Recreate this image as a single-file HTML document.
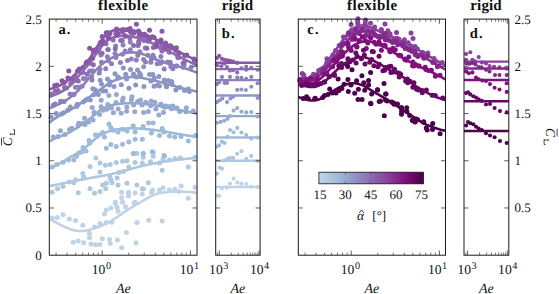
<!DOCTYPE html>
<html><head><meta charset="utf-8"><title>chart</title><style>html,body{margin:0;padding:0;background:#fff}svg{display:block}text{font-family:"Liberation Serif",serif;text-rendering:geometricPrecision}</style></head><body>
<svg width="559" height="294" viewBox="0 0 559 294">
<rect width="559" height="294" fill="#fff"/>
<defs>
<clipPath id="ca"><rect x="46.3" y="15.1" width="153.7" height="244.1"/></clipPath>
<clipPath id="cb"><rect x="212.7" y="15.1" width="50.4" height="244.1"/></clipPath>
<clipPath id="cc"><rect x="295.3" y="15.1" width="153.2" height="244.1"/></clipPath>
<clipPath id="cd"><rect x="461.0" y="15.1" width="50.8" height="244.1"/></clipPath>
<linearGradient id="cbar" x1="0" x2="1" y1="0" y2="0">
<stop offset="0.0000" stop-color="#c2d5e7"/>
<stop offset="0.0625" stop-color="#b5cce2"/>
<stop offset="0.1250" stop-color="#a8c3de"/>
<stop offset="0.1875" stop-color="#9db9d8"/>
<stop offset="0.2500" stop-color="#96abd1"/>
<stop offset="0.3125" stop-color="#8f9cc9"/>
<stop offset="0.3750" stop-color="#8c8cc1"/>
<stop offset="0.4375" stop-color="#8c7cb9"/>
<stop offset="0.5000" stop-color="#8c6bb1"/>
<stop offset="0.5625" stop-color="#8a5ba9"/>
<stop offset="0.6250" stop-color="#894ba2"/>
<stop offset="0.6875" stop-color="#873998"/>
<stop offset="0.7500" stop-color="#84268b"/>
<stop offset="0.8125" stop-color="#82137e"/>
<stop offset="0.8750" stop-color="#710a6d"/>
<stop offset="0.9375" stop-color="#5d055a"/>
<stop offset="1.0000" stop-color="#4d004b"/>
</linearGradient></defs>
<g fill="#bfd3e6" clip-path="url(#ca)"><circle cx="52.2" cy="218.0" r="2.50"/><circle cx="57.3" cy="217.5" r="2.50"/><circle cx="63.0" cy="214.4" r="2.50"/><circle cx="69.3" cy="218.9" r="2.50"/><circle cx="75.6" cy="220.4" r="2.50"/><circle cx="82.8" cy="225.2" r="2.50"/><circle cx="94.5" cy="227.0" r="2.50"/><circle cx="100.0" cy="223.4" r="2.50"/><circle cx="106.3" cy="222.5" r="2.50"/><circle cx="111.7" cy="222.2" r="2.50"/><circle cx="104.5" cy="214.0" r="2.50"/><circle cx="106.3" cy="210.0" r="2.50"/><circle cx="110.8" cy="208.1" r="2.50"/><circle cx="115.3" cy="203.6" r="2.50"/><circle cx="117.0" cy="207.2" r="2.50"/><circle cx="118.0" cy="211.2" r="2.50"/><circle cx="122.5" cy="202.2" r="2.50"/><circle cx="125.5" cy="206.8" r="2.50"/><circle cx="134.2" cy="202.7" r="2.50"/><circle cx="137.0" cy="222.5" r="2.50"/><circle cx="73.3" cy="242.3" r="2.50"/><circle cx="78.3" cy="241.1" r="2.50"/><circle cx="83.7" cy="242.7" r="2.50"/><circle cx="89.5" cy="233.3" r="2.50"/><circle cx="89.5" cy="237.8" r="2.50"/><circle cx="91.0" cy="244.1" r="2.50"/><circle cx="95.5" cy="244.7" r="2.50"/><circle cx="100.0" cy="244.5" r="2.50"/><circle cx="102.3" cy="238.7" r="2.50"/><circle cx="109.5" cy="239.3" r="2.50"/><circle cx="110.2" cy="243.6" r="2.50"/><circle cx="117.4" cy="240.0" r="2.50"/><circle cx="121.6" cy="247.7" r="2.50"/><circle cx="126.4" cy="232.4" r="2.50"/><circle cx="136.0" cy="242.9" r="2.50"/><circle cx="121.6" cy="192.3" r="2.50"/><circle cx="128.5" cy="192.3" r="2.50"/><circle cx="135.1" cy="192.9" r="2.50"/><circle cx="121.6" cy="197.7" r="2.50"/><circle cx="128.5" cy="196.0" r="2.50"/><circle cx="142.3" cy="194.1" r="2.50"/><circle cx="143.6" cy="188.7" r="2.50"/><circle cx="151.4" cy="192.3" r="2.50"/><circle cx="152.6" cy="190.0" r="2.50"/><circle cx="159.5" cy="190.0" r="2.50"/><circle cx="163.0" cy="187.8" r="2.50"/><circle cx="169.4" cy="190.0" r="2.50"/><circle cx="174.8" cy="189.3" r="2.50"/><circle cx="178.7" cy="191.4" r="2.50"/><circle cx="181.1" cy="186.0" r="2.50"/><circle cx="188.3" cy="198.3" r="2.50"/><circle cx="195.0" cy="187.3" r="2.50"/><circle cx="115.3" cy="202.3" r="2.50"/><circle cx="135.1" cy="202.3" r="2.50"/><circle cx="148.7" cy="220.2" r="2.50"/><circle cx="162.1" cy="221.0" r="2.50"/></g>
<path d="M49.3,218.9 L50.5,219.5 L51.8,220.2 L53.0,220.9 L54.3,221.5 L55.5,222.2 L56.7,222.9 L58.0,223.5 L59.2,224.2 L60.5,224.8 L61.7,225.5 L63.0,226.1 L64.2,226.7 L65.4,227.2 L66.7,227.8 L67.9,228.3 L69.2,228.8 L70.4,229.2 L71.6,229.6 L72.9,229.9 L74.1,230.2 L75.4,230.5 L76.6,230.7 L77.8,230.9 L79.1,231.0 L80.3,231.0 L81.6,231.0 L82.8,230.9 L84.1,230.8 L85.3,230.7 L86.5,230.5 L87.8,230.2 L89.0,229.9 L90.3,229.6 L91.5,229.3 L92.7,228.9 L94.0,228.5 L95.2,228.1 L96.5,227.7 L97.7,227.2 L98.9,226.7 L100.2,226.2 L101.4,225.7 L102.7,225.1 L103.9,224.5 L105.2,224.0 L106.4,223.3 L107.6,222.7 L108.9,222.0 L110.1,221.3 L111.4,220.6 L112.6,219.9 L113.8,219.1 L115.1,218.4 L116.3,217.6 L117.6,216.7 L118.8,215.9 L120.0,215.0 L121.3,214.1 L122.5,213.2 L123.8,212.3 L125.0,211.5 L126.3,210.6 L127.5,209.8 L128.7,209.1 L130.0,208.3 L131.2,207.6 L132.5,206.9 L133.7,206.2 L134.9,205.4 L136.2,204.7 L137.4,204.0 L138.7,203.3 L139.9,202.5 L141.1,201.8 L142.4,201.0 L143.6,200.3 L144.9,199.6 L146.1,198.8 L147.4,198.1 L148.6,197.4 L149.8,196.8 L151.1,196.1 L152.3,195.5 L153.6,195.0 L154.8,194.5 L156.0,194.1 L157.3,193.7 L158.5,193.4 L159.8,193.1 L161.0,192.9 L162.2,192.7 L163.5,192.5 L164.7,192.3 L166.0,192.2 L167.2,192.1 L168.5,191.9 L169.7,191.8 L170.9,191.8 L172.2,191.7 L173.4,191.6 L174.7,191.6 L175.9,191.5 L177.1,191.5 L178.4,191.5 L179.6,191.5 L180.9,191.5 L182.1,191.6 L183.3,191.6 L184.6,191.7 L185.8,191.7 L187.1,191.8 L188.3,191.9 L189.6,192.0 L190.8,192.1 L192.0,192.3 L193.3,192.4 L194.5,192.6 L195.8,192.8 L197.0,193.0" fill="none" stroke="#bfd3e6" stroke-width="2.6" stroke-linecap="butt" clip-path="url(#ca)"/>
<g fill="#aec8e0" clip-path="url(#ca)"><circle cx="52.2" cy="192.3" r="2.50"/><circle cx="57.6" cy="188.7" r="2.50"/><circle cx="63.0" cy="186.6" r="2.50"/><circle cx="69.3" cy="182.1" r="2.50"/><circle cx="73.8" cy="182.8" r="2.50"/><circle cx="75.6" cy="179.7" r="2.50"/><circle cx="78.3" cy="192.7" r="2.50"/><circle cx="82.8" cy="173.4" r="2.50"/><circle cx="83.7" cy="177.0" r="2.50"/><circle cx="90.0" cy="166.6" r="2.50"/><circle cx="90.0" cy="188.7" r="2.50"/><circle cx="94.5" cy="193.2" r="2.50"/><circle cx="95.8" cy="158.1" r="2.50"/><circle cx="100.0" cy="163.0" r="2.50"/><circle cx="100.0" cy="172.0" r="2.50"/><circle cx="100.0" cy="191.4" r="2.50"/><circle cx="102.7" cy="185.1" r="2.50"/><circle cx="105.4" cy="165.3" r="2.50"/><circle cx="106.3" cy="183.3" r="2.50"/><circle cx="105.7" cy="188.7" r="2.50"/><circle cx="110.2" cy="164.4" r="2.50"/><circle cx="109.9" cy="177.0" r="2.50"/><circle cx="110.8" cy="179.7" r="2.50"/><circle cx="112.0" cy="182.8" r="2.50"/><circle cx="116.2" cy="162.6" r="2.50"/><circle cx="117.1" cy="177.9" r="2.50"/><circle cx="118.0" cy="185.1" r="2.50"/><circle cx="118.9" cy="172.5" r="2.50"/><circle cx="122.5" cy="161.2" r="2.50"/><circle cx="123.4" cy="171.6" r="2.50"/><circle cx="127.0" cy="160.8" r="2.50"/><circle cx="127.0" cy="183.3" r="2.50"/><circle cx="128.8" cy="167.1" r="2.50"/><circle cx="135.1" cy="162.6" r="2.50"/><circle cx="134.2" cy="153.6" r="2.50"/><circle cx="136.9" cy="153.6" r="2.50"/><circle cx="136.9" cy="185.1" r="2.50"/><circle cx="143.2" cy="157.2" r="2.50"/><circle cx="142.3" cy="188.7" r="2.50"/><circle cx="142.3" cy="163.0" r="2.50"/><circle cx="150.5" cy="161.7" r="2.50"/><circle cx="153.2" cy="152.2" r="2.50"/><circle cx="153.2" cy="156.3" r="2.50"/><circle cx="159.5" cy="163.0" r="2.50"/><circle cx="162.2" cy="170.2" r="2.50"/><circle cx="163.0" cy="159.0" r="2.50"/><circle cx="164.5" cy="156.3" r="2.50"/><circle cx="169.4" cy="159.9" r="2.50"/><circle cx="174.8" cy="158.6" r="2.50"/><circle cx="180.2" cy="158.1" r="2.50"/><circle cx="188.3" cy="167.1" r="2.50"/><circle cx="195.0" cy="157.2" r="2.50"/><circle cx="148.3" cy="182.8" r="2.50"/><circle cx="143.2" cy="153.6" r="2.50"/></g>
<path d="M49.3,186.0 L50.5,185.8 L51.8,185.6 L53.0,185.4 L54.3,185.1 L55.5,184.9 L56.7,184.7 L58.0,184.4 L59.2,184.2 L60.5,183.9 L61.7,183.7 L63.0,183.4 L64.2,183.2 L65.4,182.9 L66.7,182.6 L67.9,182.4 L69.2,182.1 L70.4,181.9 L71.6,181.6 L72.9,181.3 L74.1,181.1 L75.4,180.8 L76.6,180.6 L77.8,180.3 L79.1,180.1 L80.3,179.8 L81.6,179.6 L82.8,179.4 L84.1,179.1 L85.3,178.9 L86.5,178.7 L87.8,178.5 L89.0,178.2 L90.3,178.0 L91.5,177.8 L92.7,177.6 L94.0,177.4 L95.2,177.1 L96.5,176.9 L97.7,176.7 L98.9,176.5 L100.2,176.3 L101.4,176.0 L102.7,175.8 L103.9,175.6 L105.2,175.3 L106.4,175.1 L107.6,174.8 L108.9,174.6 L110.1,174.3 L111.4,174.1 L112.6,173.8 L113.8,173.5 L115.1,173.2 L116.3,172.9 L117.6,172.6 L118.8,172.3 L120.0,172.0 L121.3,171.6 L122.5,171.3 L123.8,170.9 L125.0,170.6 L126.3,170.2 L127.5,169.9 L128.7,169.5 L130.0,169.2 L131.2,168.8 L132.5,168.5 L133.7,168.1 L134.9,167.8 L136.2,167.5 L137.4,167.1 L138.7,166.8 L139.9,166.5 L141.1,166.2 L142.4,165.9 L143.6,165.6 L144.9,165.4 L146.1,165.1 L147.4,164.8 L148.6,164.6 L149.8,164.3 L151.1,164.1 L152.3,163.8 L153.6,163.6 L154.8,163.3 L156.0,163.1 L157.3,162.9 L158.5,162.7 L159.8,162.4 L161.0,162.2 L162.2,162.0 L163.5,161.8 L164.7,161.6 L166.0,161.4 L167.2,161.2 L168.5,161.0 L169.7,160.8 L170.9,160.7 L172.2,160.5 L173.4,160.3 L174.7,160.1 L175.9,160.0 L177.1,159.8 L178.4,159.7 L179.6,159.5 L180.9,159.4 L182.1,159.2 L183.3,159.1 L184.6,159.0 L185.8,158.9 L187.1,158.7 L188.3,158.6 L189.6,158.5 L190.8,158.4 L192.0,158.3 L193.3,158.2 L194.5,158.2 L195.8,158.1 L197.0,158.0" fill="none" stroke="#aec8e0" stroke-width="2.6" stroke-linecap="butt" clip-path="url(#ca)"/>
<g fill="#9ebcda" clip-path="url(#ca)"><circle cx="52.2" cy="167.1" r="2.50"/><circle cx="56.7" cy="164.4" r="2.50"/><circle cx="63.0" cy="162.3" r="2.50"/><circle cx="68.4" cy="159.9" r="2.50"/><circle cx="73.8" cy="159.9" r="2.50"/><circle cx="76.5" cy="156.3" r="2.50"/><circle cx="79.2" cy="152.7" r="2.50"/><circle cx="81.9" cy="151.8" r="2.50"/><circle cx="102.7" cy="132.9" r="2.50"/><circle cx="109.0" cy="123.9" r="2.50"/><circle cx="110.8" cy="127.5" r="2.50"/><circle cx="113.5" cy="130.2" r="2.50"/><circle cx="118.0" cy="132.0" r="2.50"/><circle cx="122.5" cy="129.3" r="2.50"/><circle cx="127.0" cy="131.1" r="2.50"/><circle cx="133.3" cy="125.7" r="2.50"/><circle cx="135.1" cy="132.0" r="2.50"/><circle cx="143.2" cy="126.6" r="2.50"/><circle cx="148.6" cy="123.0" r="2.50"/><circle cx="153.2" cy="123.0" r="2.50"/><circle cx="151.4" cy="132.9" r="2.50"/><circle cx="159.5" cy="135.6" r="2.50"/><circle cx="162.2" cy="128.4" r="2.50"/><circle cx="164.0" cy="132.0" r="2.50"/><circle cx="169.4" cy="136.0" r="2.50"/><circle cx="174.8" cy="137.1" r="2.50"/><circle cx="181.1" cy="136.5" r="2.50"/><circle cx="188.3" cy="141.0" r="2.50"/><circle cx="195.5" cy="135.6" r="2.50"/><circle cx="106.3" cy="148.2" r="2.50"/><circle cx="110.8" cy="144.6" r="2.50"/><circle cx="116.2" cy="146.4" r="2.50"/><circle cx="122.5" cy="144.3" r="2.50"/><circle cx="128.8" cy="141.9" r="2.50"/><circle cx="135.1" cy="139.2" r="2.50"/><circle cx="142.3" cy="139.2" r="2.50"/><circle cx="133.3" cy="153.6" r="2.50"/><circle cx="143.2" cy="153.6" r="2.50"/><circle cx="152.3" cy="151.8" r="2.50"/><circle cx="164.0" cy="155.4" r="2.50"/><circle cx="83.0" cy="147.5" r="2.50"/><circle cx="86.0" cy="151.0" r="2.50"/><circle cx="89.0" cy="140.5" r="2.50"/><circle cx="89.7" cy="143.2" r="2.50"/><circle cx="95.5" cy="135.1" r="2.50"/><circle cx="98.2" cy="135.1" r="2.50"/><circle cx="102.7" cy="132.4" r="2.50"/><circle cx="104.5" cy="137.0" r="2.50"/></g>
<path d="M49.3,168.0 L50.5,167.7 L51.8,167.2 L53.0,166.8 L54.3,166.3 L55.5,165.7 L56.7,165.1 L58.0,164.5 L59.2,163.9 L60.5,163.2 L61.7,162.5 L63.0,161.7 L64.2,161.0 L65.4,160.2 L66.7,159.5 L67.9,158.7 L69.2,158.0 L70.4,157.2 L71.6,156.5 L72.9,155.8 L74.1,155.1 L75.4,154.4 L76.6,153.7 L77.8,152.9 L79.1,152.2 L80.3,151.4 L81.6,150.5 L82.8,149.6 L84.1,148.6 L85.3,147.6 L86.5,146.5 L87.8,145.5 L89.0,144.4 L90.3,143.3 L91.5,142.2 L92.7,141.1 L94.0,140.0 L95.2,139.0 L96.5,138.0 L97.7,137.1 L98.9,136.2 L100.2,135.4 L101.4,134.6 L102.7,133.9 L103.9,133.3 L105.2,132.7 L106.4,132.2 L107.6,131.8 L108.9,131.3 L110.1,131.0 L111.4,130.6 L112.6,130.3 L113.8,130.0 L115.1,129.8 L116.3,129.5 L117.6,129.3 L118.8,129.2 L120.0,129.0 L121.3,128.9 L122.5,128.8 L123.8,128.6 L125.0,128.6 L126.3,128.5 L127.5,128.4 L128.7,128.4 L130.0,128.4 L131.2,128.3 L132.5,128.3 L133.7,128.3 L134.9,128.4 L136.2,128.4 L137.4,128.5 L138.7,128.5 L139.9,128.6 L141.1,128.7 L142.4,128.8 L143.6,128.9 L144.9,129.0 L146.1,129.1 L147.4,129.2 L148.6,129.3 L149.8,129.5 L151.1,129.6 L152.3,129.8 L153.6,129.9 L154.8,130.1 L156.0,130.3 L157.3,130.5 L158.5,130.6 L159.8,130.8 L161.0,131.0 L162.2,131.2 L163.5,131.4 L164.7,131.6 L166.0,131.8 L167.2,132.0 L168.5,132.2 L169.7,132.4 L170.9,132.7 L172.2,132.9 L173.4,133.1 L174.7,133.3 L175.9,133.5 L177.1,133.7 L178.4,134.0 L179.6,134.2 L180.9,134.4 L182.1,134.6 L183.3,134.8 L184.6,135.0 L185.8,135.2 L187.1,135.4 L188.3,135.6 L189.6,135.8 L190.8,136.0 L192.0,136.2 L193.3,136.4 L194.5,136.6 L195.8,136.8 L197.0,137.0" fill="none" stroke="#9ebcda" stroke-width="2.6" stroke-linecap="butt" clip-path="url(#ca)"/>
<g fill="#95a9d0" clip-path="url(#ca)"><circle cx="53.3" cy="137.0" r="2.50"/><circle cx="60.5" cy="130.8" r="2.50"/><circle cx="69.5" cy="129.4" r="2.50"/><circle cx="78.7" cy="123.3" r="2.50"/><circle cx="84.5" cy="118.2" r="2.50"/><circle cx="92.2" cy="107.6" r="2.50"/><circle cx="101.2" cy="100.3" r="2.50"/><circle cx="108.9" cy="95.5" r="2.50"/><circle cx="116.4" cy="94.6" r="2.50"/><circle cx="123.2" cy="98.1" r="2.50"/><circle cx="131.9" cy="96.7" r="2.50"/><circle cx="140.5" cy="100.0" r="2.50"/><circle cx="146.2" cy="102.7" r="2.50"/><circle cx="154.9" cy="102.3" r="2.50"/><circle cx="161.2" cy="104.3" r="2.50"/><circle cx="169.7" cy="106.5" r="2.50"/><circle cx="176.9" cy="107.9" r="2.50"/><circle cx="186.4" cy="107.7" r="2.50"/><circle cx="193.2" cy="111.1" r="2.50"/><circle cx="58.1" cy="136.5" r="2.50"/><circle cx="65.0" cy="134.4" r="2.50"/><circle cx="71.8" cy="128.3" r="2.50"/><circle cx="82.3" cy="123.5" r="2.50"/><circle cx="88.6" cy="122.1" r="2.50"/><circle cx="94.2" cy="113.8" r="2.50"/><circle cx="103.2" cy="110.3" r="2.50"/><circle cx="111.4" cy="108.1" r="2.50"/><circle cx="118.2" cy="109.0" r="2.50"/><circle cx="126.8" cy="107.1" r="2.50"/><circle cx="133.6" cy="105.0" r="2.50"/><circle cx="142.1" cy="105.0" r="2.50"/><circle cx="150.5" cy="105.7" r="2.50"/><circle cx="155.9" cy="109.1" r="2.50"/><circle cx="164.5" cy="107.3" r="2.50"/><circle cx="171.5" cy="108.7" r="2.50"/><circle cx="179.8" cy="111.4" r="2.50"/><circle cx="186.0" cy="111.8" r="2.50"/><circle cx="78.0" cy="126.0" r="2.50"/><circle cx="85.0" cy="124.5" r="2.50"/><circle cx="94.2" cy="112.2" r="2.50"/><circle cx="101.1" cy="106.8" r="2.50"/><circle cx="107.8" cy="104.5" r="2.50"/><circle cx="116.0" cy="102.5" r="2.50"/><circle cx="122.4" cy="100.4" r="2.50"/><circle cx="131.4" cy="99.8" r="2.50"/><circle cx="137.7" cy="101.6" r="2.50"/><circle cx="145.8" cy="102.4" r="2.50"/><circle cx="151.3" cy="100.9" r="2.50"/><circle cx="160.5" cy="104.5" r="2.50"/><circle cx="165.8" cy="106.0" r="2.50"/><circle cx="172.9" cy="106.0" r="2.50"/><circle cx="93.1" cy="120.0" r="2.50"/><circle cx="99.6" cy="114.6" r="2.50"/><circle cx="106.8" cy="109.2" r="2.50"/><circle cx="113.4" cy="112.8" r="2.50"/><circle cx="121.2" cy="113.3" r="2.50"/><circle cx="126.6" cy="111.2" r="2.50"/><circle cx="134.8" cy="111.7" r="2.50"/><circle cx="143.7" cy="112.5" r="2.50"/><circle cx="148.4" cy="111.5" r="2.50"/><circle cx="158.8" cy="115.1" r="2.50"/><circle cx="163.4" cy="112.6" r="2.50"/></g>
<path d="M49.3,141.5 L50.5,140.8 L51.8,140.1 L53.0,139.4 L54.3,138.8 L55.5,138.3 L56.7,137.7 L58.0,137.2 L59.2,136.7 L60.5,136.2 L61.7,135.7 L63.0,135.2 L64.2,134.7 L65.4,134.2 L66.7,133.7 L67.9,133.1 L69.2,132.5 L70.4,131.9 L71.6,131.2 L72.9,130.5 L74.1,129.7 L75.4,128.9 L76.6,128.1 L77.8,127.2 L79.1,126.3 L80.3,125.5 L81.6,124.6 L82.8,123.7 L84.1,122.9 L85.3,122.0 L86.5,121.1 L87.8,120.2 L89.0,119.3 L90.3,118.3 L91.5,117.3 L92.7,116.2 L94.0,115.1 L95.2,114.0 L96.5,113.0 L97.7,112.0 L98.9,111.0 L100.2,110.2 L101.4,109.4 L102.7,108.7 L103.9,108.0 L105.2,107.4 L106.4,106.9 L107.6,106.4 L108.9,106.0 L110.1,105.6 L111.4,105.3 L112.6,105.0 L113.8,104.7 L115.1,104.5 L116.3,104.3 L117.6,104.1 L118.8,103.9 L120.0,103.8 L121.3,103.6 L122.5,103.5 L123.8,103.4 L125.0,103.3 L126.3,103.3 L127.5,103.2 L128.7,103.2 L130.0,103.2 L131.2,103.2 L132.5,103.2 L133.7,103.2 L134.9,103.2 L136.2,103.3 L137.4,103.4 L138.7,103.4 L139.9,103.5 L141.1,103.6 L142.4,103.7 L143.6,103.8 L144.9,104.0 L146.1,104.1 L147.4,104.3 L148.6,104.4 L149.8,104.6 L151.1,104.8 L152.3,104.9 L153.6,105.1 L154.8,105.3 L156.0,105.5 L157.3,105.8 L158.5,106.0 L159.8,106.2 L161.0,106.4 L162.2,106.7 L163.5,106.9 L164.7,107.1 L166.0,107.4 L167.2,107.6 L168.5,107.9 L169.7,108.1 L170.9,108.4 L172.2,108.6 L173.4,108.9 L174.7,109.1 L175.9,109.4 L177.1,109.6 L178.4,109.9 L179.6,110.1 L180.9,110.4 L182.1,110.6 L183.3,110.9 L184.6,111.1 L185.8,111.4 L187.1,111.6 L188.3,111.8 L189.6,112.1 L190.8,112.3 L192.0,112.6 L193.3,112.8 L194.5,113.0 L195.8,113.2 L197.0,113.4" fill="none" stroke="#95a9d0" stroke-width="2.6" stroke-linecap="butt" clip-path="url(#ca)"/>
<g fill="#8c96c6" clip-path="url(#ca)"><circle cx="51.1" cy="117.0" r="2.50"/><circle cx="61.5" cy="113.9" r="2.50"/><circle cx="67.7" cy="110.2" r="2.50"/><circle cx="76.6" cy="106.4" r="2.50"/><circle cx="83.2" cy="101.9" r="2.50"/><circle cx="90.2" cy="100.1" r="2.50"/><circle cx="98.3" cy="94.4" r="2.50"/><circle cx="105.7" cy="91.1" r="2.50"/><circle cx="114.0" cy="86.4" r="2.50"/><circle cx="121.3" cy="84.7" r="2.50"/><circle cx="129.0" cy="88.2" r="2.50"/><circle cx="135.6" cy="85.1" r="2.50"/><circle cx="143.9" cy="86.5" r="2.50"/><circle cx="154.1" cy="86.3" r="2.50"/><circle cx="159.4" cy="86.0" r="2.50"/><circle cx="166.6" cy="86.7" r="2.50"/><circle cx="175.8" cy="90.1" r="2.50"/><circle cx="184.6" cy="90.4" r="2.50"/><circle cx="189.3" cy="91.6" r="2.50"/><circle cx="56.2" cy="113.5" r="2.50"/><circle cx="63.6" cy="112.8" r="2.50"/><circle cx="70.3" cy="107.0" r="2.50"/><circle cx="77.1" cy="104.5" r="2.50"/><circle cx="87.3" cy="99.0" r="2.50"/><circle cx="95.0" cy="89.7" r="2.50"/><circle cx="101.5" cy="84.1" r="2.50"/><circle cx="110.0" cy="81.7" r="2.50"/><circle cx="117.9" cy="77.1" r="2.50"/><circle cx="125.7" cy="74.3" r="2.50"/><circle cx="133.5" cy="74.1" r="2.50"/><circle cx="139.7" cy="73.3" r="2.50"/><circle cx="149.5" cy="74.5" r="2.50"/><circle cx="154.3" cy="78.1" r="2.50"/><circle cx="164.2" cy="80.1" r="2.50"/><circle cx="171.6" cy="81.5" r="2.50"/><circle cx="179.7" cy="87.4" r="2.50"/><circle cx="188.4" cy="88.9" r="2.50"/><circle cx="78.0" cy="104.6" r="2.50"/><circle cx="85.5" cy="100.3" r="2.50"/><circle cx="93.6" cy="94.7" r="2.50"/><circle cx="102.6" cy="91.1" r="2.50"/><circle cx="109.5" cy="85.0" r="2.50"/><circle cx="118.7" cy="78.1" r="2.50"/><circle cx="126.6" cy="79.1" r="2.50"/><circle cx="136.3" cy="76.9" r="2.50"/><circle cx="140.6" cy="75.2" r="2.50"/><circle cx="151.0" cy="80.9" r="2.50"/><circle cx="157.8" cy="85.1" r="2.50"/><circle cx="165.9" cy="84.7" r="2.50"/><circle cx="172.3" cy="84.4" r="2.50"/><circle cx="92.8" cy="88.7" r="2.50"/><circle cx="100.2" cy="80.2" r="2.50"/><circle cx="107.5" cy="78.9" r="2.50"/><circle cx="115.0" cy="73.8" r="2.50"/><circle cx="123.3" cy="68.0" r="2.50"/><circle cx="130.5" cy="69.5" r="2.50"/><circle cx="137.5" cy="69.9" r="2.50"/><circle cx="143.6" cy="66.7" r="2.50"/><circle cx="152.7" cy="74.6" r="2.50"/><circle cx="158.9" cy="76.5" r="2.50"/><circle cx="168.2" cy="80.4" r="2.50"/></g>
<path d="M49.3,122.8 L50.5,121.7 L51.8,120.7 L53.0,119.8 L54.3,118.9 L55.5,118.1 L56.7,117.3 L58.0,116.5 L59.2,115.8 L60.5,115.1 L61.7,114.5 L63.0,113.8 L64.2,113.2 L65.4,112.6 L66.7,111.9 L67.9,111.3 L69.2,110.6 L70.4,109.9 L71.6,109.2 L72.9,108.5 L74.1,107.7 L75.4,106.9 L76.6,106.0 L77.8,105.2 L79.1,104.3 L80.3,103.5 L81.6,102.6 L82.8,101.7 L84.1,100.9 L85.3,100.0 L86.5,99.1 L87.8,98.2 L89.0,97.4 L90.3,96.5 L91.5,95.7 L92.7,94.8 L94.0,93.9 L95.2,93.1 L96.5,92.2 L97.7,91.3 L98.9,90.4 L100.2,89.5 L101.4,88.6 L102.7,87.7 L103.9,86.8 L105.2,85.9 L106.4,85.1 L107.6,84.2 L108.9,83.5 L110.1,82.7 L111.4,82.0 L112.6,81.4 L113.8,80.8 L115.1,80.3 L116.3,79.8 L117.6,79.3 L118.8,78.9 L120.0,78.5 L121.3,78.2 L122.5,77.9 L123.8,77.7 L125.0,77.4 L126.3,77.3 L127.5,77.2 L128.7,77.1 L130.0,77.0 L131.2,77.0 L132.5,77.0 L133.7,77.0 L134.9,77.1 L136.2,77.2 L137.4,77.3 L138.7,77.5 L139.9,77.6 L141.1,77.8 L142.4,78.0 L143.6,78.2 L144.9,78.5 L146.1,78.7 L147.4,79.0 L148.6,79.2 L149.8,79.5 L151.1,79.8 L152.3,80.1 L153.6,80.4 L154.8,80.7 L156.0,81.0 L157.3,81.3 L158.5,81.6 L159.8,81.9 L161.0,82.3 L162.2,82.6 L163.5,82.9 L164.7,83.3 L166.0,83.6 L167.2,84.0 L168.5,84.3 L169.7,84.7 L170.9,85.0 L172.2,85.4 L173.4,85.7 L174.7,86.0 L175.9,86.4 L177.1,86.7 L178.4,87.1 L179.6,87.4 L180.9,87.7 L182.1,88.1 L183.3,88.4 L184.6,88.7 L185.8,89.0 L187.1,89.3 L188.3,89.6 L189.6,89.9 L190.8,90.2 L192.0,90.4 L193.3,90.7 L194.5,91.0 L195.8,91.2 L197.0,91.4" fill="none" stroke="#8c96c6" stroke-width="2.6" stroke-linecap="butt" clip-path="url(#ca)"/>
<g fill="#8c80bc" clip-path="url(#ca)"><circle cx="53.3" cy="105.3" r="2.50"/><circle cx="60.6" cy="101.2" r="2.50"/><circle cx="70.0" cy="94.1" r="2.50"/><circle cx="75.5" cy="87.3" r="2.50"/><circle cx="83.4" cy="78.4" r="2.50"/><circle cx="89.6" cy="70.9" r="2.50"/><circle cx="100.9" cy="55.0" r="2.50"/><circle cx="107.9" cy="49.7" r="2.50"/><circle cx="115.6" cy="46.1" r="2.50"/><circle cx="123.0" cy="44.9" r="2.50"/><circle cx="130.2" cy="41.9" r="2.50"/><circle cx="138.0" cy="45.8" r="2.50"/><circle cx="145.2" cy="48.1" r="2.50"/><circle cx="153.0" cy="55.2" r="2.50"/><circle cx="160.9" cy="56.5" r="2.50"/><circle cx="170.2" cy="62.3" r="2.50"/><circle cx="176.9" cy="66.0" r="2.50"/><circle cx="184.0" cy="65.3" r="2.50"/><circle cx="191.1" cy="67.2" r="2.50"/><circle cx="55.1" cy="104.0" r="2.50"/><circle cx="64.1" cy="101.5" r="2.50"/><circle cx="73.3" cy="94.7" r="2.50"/><circle cx="78.4" cy="87.3" r="2.50"/><circle cx="86.0" cy="78.7" r="2.50"/><circle cx="92.6" cy="70.8" r="2.50"/><circle cx="101.5" cy="62.2" r="2.50"/><circle cx="107.4" cy="56.8" r="2.50"/><circle cx="115.0" cy="53.5" r="2.50"/><circle cx="125.1" cy="51.0" r="2.50"/><circle cx="130.3" cy="49.7" r="2.50"/><circle cx="139.9" cy="51.7" r="2.50"/><circle cx="147.9" cy="55.3" r="2.50"/><circle cx="154.0" cy="57.7" r="2.50"/><circle cx="161.8" cy="61.7" r="2.50"/><circle cx="170.8" cy="66.6" r="2.50"/><circle cx="176.1" cy="66.1" r="2.50"/><circle cx="183.2" cy="67.2" r="2.50"/><circle cx="74.1" cy="94.3" r="2.50"/><circle cx="82.1" cy="86.2" r="2.50"/><circle cx="91.9" cy="80.0" r="2.50"/><circle cx="99.2" cy="73.1" r="2.50"/><circle cx="105.7" cy="68.8" r="2.50"/><circle cx="111.5" cy="63.7" r="2.50"/><circle cx="120.4" cy="62.6" r="2.50"/><circle cx="127.5" cy="60.4" r="2.50"/><circle cx="136.3" cy="60.0" r="2.50"/><circle cx="145.5" cy="62.0" r="2.50"/><circle cx="150.8" cy="62.2" r="2.50"/><circle cx="157.2" cy="63.8" r="2.50"/><circle cx="164.2" cy="68.9" r="2.50"/><circle cx="172.8" cy="68.7" r="2.50"/><circle cx="91.6" cy="76.7" r="2.50"/><circle cx="100.0" cy="69.3" r="2.50"/><circle cx="108.3" cy="60.7" r="2.50"/><circle cx="115.9" cy="57.5" r="2.50"/><circle cx="122.5" cy="54.3" r="2.50"/><circle cx="131.3" cy="59.1" r="2.50"/><circle cx="137.8" cy="55.2" r="2.50"/><circle cx="143.6" cy="59.5" r="2.50"/><circle cx="151.3" cy="58.7" r="2.50"/><circle cx="160.5" cy="63.2" r="2.50"/><circle cx="167.5" cy="62.1" r="2.50"/></g>
<path d="M49.3,108.4 L50.5,107.9 L51.8,107.3 L53.0,106.8 L54.3,106.3 L55.5,105.7 L56.7,105.1 L58.0,104.6 L59.2,104.0 L60.5,103.3 L61.7,102.7 L63.0,102.0 L64.2,101.3 L65.4,100.6 L66.7,99.8 L67.9,99.0 L69.2,98.1 L70.4,97.2 L71.6,96.3 L72.9,95.3 L74.1,94.2 L75.4,93.1 L76.6,92.0 L77.8,90.8 L79.1,89.5 L80.3,88.2 L81.6,86.9 L82.8,85.5 L84.1,84.1 L85.3,82.6 L86.5,81.1 L87.8,79.7 L89.0,78.2 L90.3,76.7 L91.5,75.2 L92.7,73.8 L94.0,72.3 L95.2,70.9 L96.5,69.6 L97.7,68.3 L98.9,67.1 L100.2,65.9 L101.4,64.8 L102.7,63.8 L103.9,62.8 L105.2,61.9 L106.4,61.0 L107.6,60.2 L108.9,59.5 L110.1,58.8 L111.4,58.1 L112.6,57.5 L113.8,56.9 L115.1,56.4 L116.3,55.9 L117.6,55.4 L118.8,54.9 L120.0,54.5 L121.3,54.1 L122.5,53.8 L123.8,53.5 L125.0,53.2 L126.3,53.0 L127.5,52.7 L128.7,52.6 L130.0,52.5 L131.2,52.4 L132.5,52.4 L133.7,52.4 L134.9,52.5 L136.2,52.6 L137.4,52.8 L138.7,53.0 L139.9,53.3 L141.1,53.6 L142.4,54.0 L143.6,54.4 L144.9,54.9 L146.1,55.3 L147.4,55.8 L148.6,56.4 L149.8,56.9 L151.1,57.4 L152.3,58.0 L153.6,58.5 L154.8,59.0 L156.0,59.5 L157.3,60.0 L158.5,60.5 L159.8,60.9 L161.0,61.3 L162.2,61.7 L163.5,62.1 L164.7,62.5 L166.0,62.9 L167.2,63.3 L168.5,63.7 L169.7,64.0 L170.9,64.4 L172.2,64.7 L173.4,65.1 L174.7,65.4 L175.9,65.7 L177.1,66.1 L178.4,66.4 L179.6,66.8 L180.9,67.1 L182.1,67.5 L183.3,67.9 L184.6,68.2 L185.8,68.6 L187.1,69.0 L188.3,69.4 L189.6,69.8 L190.8,70.2 L192.0,70.7 L193.3,71.1 L194.5,71.6 L195.8,72.1 L197.0,72.6" fill="none" stroke="#8c80bc" stroke-width="2.6" stroke-linecap="butt" clip-path="url(#ca)"/>
<g fill="#8c6bb1" clip-path="url(#ca)"><circle cx="51.7" cy="93.9" r="2.50"/><circle cx="58.1" cy="90.6" r="2.50"/><circle cx="66.5" cy="87.9" r="2.50"/><circle cx="74.4" cy="80.4" r="2.50"/><circle cx="82.7" cy="72.6" r="2.50"/><circle cx="90.0" cy="63.3" r="2.50"/><circle cx="97.6" cy="51.7" r="2.50"/><circle cx="106.0" cy="43.8" r="2.50"/><circle cx="113.1" cy="40.1" r="2.50"/><circle cx="120.7" cy="40.4" r="2.50"/><circle cx="129.8" cy="38.1" r="2.50"/><circle cx="138.7" cy="41.5" r="2.50"/><circle cx="144.0" cy="40.4" r="2.50"/><circle cx="153.4" cy="47.6" r="2.50"/><circle cx="160.6" cy="47.8" r="2.50"/><circle cx="168.1" cy="50.1" r="2.50"/><circle cx="177.9" cy="57.4" r="2.50"/><circle cx="184.3" cy="62.2" r="2.50"/><circle cx="194.3" cy="62.6" r="2.50"/><circle cx="55.3" cy="91.2" r="2.50"/><circle cx="64.5" cy="87.6" r="2.50"/><circle cx="70.7" cy="83.5" r="2.50"/><circle cx="78.3" cy="81.0" r="2.50"/><circle cx="87.2" cy="74.0" r="2.50"/><circle cx="93.3" cy="64.7" r="2.50"/><circle cx="102.1" cy="53.3" r="2.50"/><circle cx="108.1" cy="49.5" r="2.50"/><circle cx="115.3" cy="48.8" r="2.50"/><circle cx="122.2" cy="40.6" r="2.50"/><circle cx="133.6" cy="45.5" r="2.50"/><circle cx="138.8" cy="43.4" r="2.50"/><circle cx="146.9" cy="48.3" r="2.50"/><circle cx="154.2" cy="46.9" r="2.50"/><circle cx="161.9" cy="50.9" r="2.50"/><circle cx="169.3" cy="52.2" r="2.50"/><circle cx="178.7" cy="57.4" r="2.50"/><circle cx="183.1" cy="63.2" r="2.50"/><circle cx="76.4" cy="77.1" r="2.50"/><circle cx="83.0" cy="67.4" r="2.50"/><circle cx="92.3" cy="57.7" r="2.50"/><circle cx="100.4" cy="44.9" r="2.50"/><circle cx="108.1" cy="37.5" r="2.50"/><circle cx="115.8" cy="33.4" r="2.50"/><circle cx="122.5" cy="32.0" r="2.50"/><circle cx="131.3" cy="32.8" r="2.50"/><circle cx="139.1" cy="36.3" r="2.50"/><circle cx="148.2" cy="39.4" r="2.50"/><circle cx="156.5" cy="44.6" r="2.50"/><circle cx="162.1" cy="47.1" r="2.50"/><circle cx="169.2" cy="48.7" r="2.50"/><circle cx="177.7" cy="55.4" r="2.50"/><circle cx="92.8" cy="58.1" r="2.50"/><circle cx="98.9" cy="49.3" r="2.50"/><circle cx="109.2" cy="38.2" r="2.50"/><circle cx="117.2" cy="34.7" r="2.50"/><circle cx="124.9" cy="35.8" r="2.50"/><circle cx="132.6" cy="33.3" r="2.50"/><circle cx="140.6" cy="39.0" r="2.50"/><circle cx="147.9" cy="41.3" r="2.50"/><circle cx="156.6" cy="45.3" r="2.50"/><circle cx="164.3" cy="49.3" r="2.50"/></g>
<path d="M49.3,97.0 L50.5,96.5 L51.8,96.1 L53.0,95.6 L54.3,95.1 L55.5,94.6 L56.7,94.1 L58.0,93.5 L59.2,92.9 L60.5,92.3 L61.7,91.6 L63.0,90.9 L64.2,90.2 L65.4,89.4 L66.7,88.5 L67.9,87.5 L69.2,86.5 L70.4,85.4 L71.6,84.2 L72.9,83.0 L74.1,81.6 L75.4,80.2 L76.6,78.7 L77.8,77.2 L79.1,75.7 L80.3,74.2 L81.6,72.7 L82.8,71.2 L84.1,69.8 L85.3,68.3 L86.5,66.8 L87.8,65.3 L89.0,63.7 L90.3,62.1 L91.5,60.4 L92.7,58.7 L94.0,56.9 L95.2,55.2 L96.5,53.4 L97.7,51.7 L98.9,49.9 L100.2,48.3 L101.4,46.7 L102.7,45.2 L103.9,43.8 L105.2,42.6 L106.4,41.5 L107.6,40.5 L108.9,39.6 L110.1,38.8 L111.4,38.2 L112.6,37.6 L113.8,37.2 L115.1,36.8 L116.3,36.5 L117.6,36.3 L118.8,36.1 L120.0,36.0 L121.3,35.9 L122.5,35.8 L123.8,35.8 L125.0,35.8 L126.3,35.9 L127.5,36.0 L128.7,36.1 L130.0,36.3 L131.2,36.5 L132.5,36.7 L133.7,36.9 L134.9,37.2 L136.2,37.5 L137.4,37.9 L138.7,38.2 L139.9,38.6 L141.1,39.0 L142.4,39.4 L143.6,39.9 L144.9,40.3 L146.1,40.8 L147.4,41.2 L148.6,41.7 L149.8,42.2 L151.1,42.7 L152.3,43.3 L153.6,43.8 L154.8,44.4 L156.0,44.9 L157.3,45.5 L158.5,46.1 L159.8,46.7 L161.0,47.3 L162.2,48.0 L163.5,48.6 L164.7,49.2 L166.0,49.9 L167.2,50.5 L168.5,51.2 L169.7,51.8 L170.9,52.4 L172.2,53.1 L173.4,53.7 L174.7,54.4 L175.9,55.0 L177.1,55.6 L178.4,56.3 L179.6,56.9 L180.9,57.5 L182.1,58.1 L183.3,58.7 L184.6,59.4 L185.8,60.0 L187.1,60.6 L188.3,61.2 L189.6,61.8 L190.8,62.4 L192.0,63.0 L193.3,63.6 L194.5,64.2 L195.8,64.8 L197.0,65.4" fill="none" stroke="#8c6bb1" stroke-width="2.6" stroke-linecap="butt" clip-path="url(#ca)"/>
<g fill="#8a56a7" clip-path="url(#ca)"><circle cx="54.7" cy="85.5" r="2.50"/><circle cx="62.1" cy="80.8" r="2.50"/><circle cx="67.9" cy="77.9" r="2.50"/><circle cx="77.8" cy="71.3" r="2.50"/><circle cx="86.1" cy="63.0" r="2.50"/><circle cx="93.6" cy="51.9" r="2.50"/><circle cx="100.4" cy="42.6" r="2.50"/><circle cx="106.2" cy="32.8" r="2.50"/><circle cx="116.5" cy="28.9" r="2.50"/><circle cx="123.0" cy="29.6" r="2.50"/><circle cx="128.2" cy="29.7" r="2.50"/><circle cx="138.9" cy="33.1" r="2.50"/><circle cx="144.6" cy="34.2" r="2.50"/><circle cx="152.5" cy="36.7" r="2.50"/><circle cx="160.8" cy="42.4" r="2.50"/><circle cx="170.5" cy="45.7" r="2.50"/><circle cx="176.4" cy="47.8" r="2.50"/><circle cx="184.8" cy="55.5" r="2.50"/><circle cx="194.0" cy="59.1" r="2.50"/><circle cx="57.0" cy="84.9" r="2.50"/><circle cx="64.3" cy="82.5" r="2.50"/><circle cx="71.6" cy="79.1" r="2.50"/><circle cx="77.7" cy="70.9" r="2.50"/><circle cx="87.4" cy="61.8" r="2.50"/><circle cx="96.3" cy="49.2" r="2.50"/><circle cx="103.3" cy="41.2" r="2.50"/><circle cx="109.9" cy="33.5" r="2.50"/><circle cx="118.1" cy="33.7" r="2.50"/><circle cx="126.5" cy="29.8" r="2.50"/><circle cx="130.4" cy="31.5" r="2.50"/><circle cx="140.8" cy="34.0" r="2.50"/><circle cx="149.1" cy="38.7" r="2.50"/><circle cx="156.8" cy="42.7" r="2.50"/><circle cx="165.5" cy="43.1" r="2.50"/><circle cx="172.5" cy="47.7" r="2.50"/><circle cx="179.2" cy="53.1" r="2.50"/><circle cx="186.8" cy="55.1" r="2.50"/><circle cx="79.3" cy="69.1" r="2.50"/><circle cx="86.8" cy="62.2" r="2.50"/><circle cx="93.2" cy="50.2" r="2.50"/><circle cx="102.2" cy="36.4" r="2.50"/><circle cx="108.3" cy="32.7" r="2.50"/><circle cx="117.2" cy="31.1" r="2.50"/><circle cx="122.5" cy="30.5" r="2.50"/><circle cx="130.1" cy="28.4" r="2.50"/><circle cx="138.6" cy="31.1" r="2.50"/><circle cx="145.1" cy="35.9" r="2.50"/><circle cx="154.0" cy="37.6" r="2.50"/><circle cx="161.0" cy="40.1" r="2.50"/><circle cx="167.2" cy="45.4" r="2.50"/><circle cx="175.8" cy="50.5" r="2.50"/><circle cx="91.8" cy="58.8" r="2.50"/><circle cx="102.0" cy="43.4" r="2.50"/><circle cx="108.4" cy="38.0" r="2.50"/><circle cx="117.1" cy="35.2" r="2.50"/><circle cx="125.4" cy="36.2" r="2.50"/><circle cx="133.8" cy="33.1" r="2.50"/><circle cx="140.8" cy="35.4" r="2.50"/><circle cx="149.6" cy="39.1" r="2.50"/><circle cx="156.2" cy="46.4" r="2.50"/><circle cx="164.7" cy="47.9" r="2.50"/><circle cx="136.4" cy="24.2" r="2.50"/><circle cx="162.0" cy="31.2" r="2.50"/><circle cx="89.6" cy="48.2" r="2.50"/><circle cx="68.8" cy="70.9" r="2.50"/><circle cx="149.5" cy="30.3" r="2.50"/></g>
<path d="M49.3,89.2 L50.5,88.9 L51.8,88.6 L53.0,88.3 L54.3,87.9 L55.5,87.4 L56.7,86.9 L58.0,86.4 L59.2,85.8 L60.5,85.2 L61.7,84.5 L63.0,83.8 L64.2,83.1 L65.4,82.2 L66.7,81.4 L67.9,80.5 L69.2,79.5 L70.4,78.5 L71.6,77.5 L72.9,76.4 L74.1,75.2 L75.4,74.0 L76.6,72.8 L77.8,71.6 L79.1,70.3 L80.3,69.1 L81.6,67.8 L82.8,66.6 L84.1,65.3 L85.3,64.0 L86.5,62.5 L87.8,61.0 L89.0,59.3 L90.3,57.5 L91.5,55.6 L92.7,53.6 L94.0,51.6 L95.2,49.6 L96.5,47.6 L97.7,45.7 L98.9,43.8 L100.2,42.0 L101.4,40.3 L102.7,38.6 L103.9,37.2 L105.2,35.8 L106.4,34.6 L107.6,33.5 L108.9,32.6 L110.1,31.8 L111.4,31.2 L112.6,30.7 L113.8,30.3 L115.1,30.0 L116.3,29.7 L117.6,29.5 L118.8,29.4 L120.0,29.3 L121.3,29.2 L122.5,29.2 L123.8,29.2 L125.0,29.2 L126.3,29.3 L127.5,29.4 L128.7,29.6 L130.0,29.7 L131.2,29.9 L132.5,30.2 L133.7,30.5 L134.9,30.8 L136.2,31.1 L137.4,31.4 L138.7,31.8 L139.9,32.2 L141.1,32.7 L142.4,33.1 L143.6,33.6 L144.9,34.1 L146.1,34.7 L147.4,35.2 L148.6,35.8 L149.8,36.3 L151.1,36.9 L152.3,37.5 L153.6,38.2 L154.8,38.8 L156.0,39.5 L157.3,40.1 L158.5,40.8 L159.8,41.5 L161.0,42.2 L162.2,42.9 L163.5,43.6 L164.7,44.3 L166.0,45.0 L167.2,45.7 L168.5,46.4 L169.7,47.0 L170.9,47.7 L172.2,48.4 L173.4,49.1 L174.7,49.7 L175.9,50.3 L177.1,51.0 L178.4,51.6 L179.6,52.2 L180.9,52.8 L182.1,53.4 L183.3,54.0 L184.6,54.7 L185.8,55.3 L187.1,55.9 L188.3,56.5 L189.6,57.1 L190.8,57.7 L192.0,58.3 L193.3,58.9 L194.5,59.6 L195.8,60.2 L197.0,60.8" fill="none" stroke="#8a56a7" stroke-width="2.6" stroke-linecap="butt" clip-path="url(#ca)"/>
<g fill="#88419d" clip-path="url(#cc)"><circle cx="302.2" cy="73.4" r="2.50"/><circle cx="311.7" cy="77.0" r="2.50"/><circle cx="318.7" cy="70.6" r="2.50"/><circle cx="326.7" cy="62.9" r="2.50"/><circle cx="333.2" cy="55.5" r="2.50"/><circle cx="343.5" cy="37.1" r="2.50"/><circle cx="351.1" cy="24.4" r="2.50"/><circle cx="357.6" cy="21.0" r="2.50"/><circle cx="365.5" cy="20.0" r="2.50"/><circle cx="370.5" cy="23.3" r="2.50"/><circle cx="381.0" cy="30.6" r="2.50"/><circle cx="387.9" cy="30.8" r="2.50"/><circle cx="396.4" cy="38.7" r="2.50"/><circle cx="404.4" cy="39.8" r="2.50"/><circle cx="411.1" cy="46.1" r="2.50"/><circle cx="417.4" cy="48.9" r="2.50"/><circle cx="427.4" cy="54.2" r="2.50"/><circle cx="434.0" cy="58.5" r="2.50"/><circle cx="442.2" cy="62.4" r="2.50"/><circle cx="303.7" cy="75.1" r="2.50"/><circle cx="313.5" cy="74.2" r="2.50"/><circle cx="321.4" cy="69.1" r="2.50"/><circle cx="328.4" cy="60.0" r="2.50"/><circle cx="335.5" cy="50.6" r="2.50"/><circle cx="341.8" cy="44.4" r="2.50"/><circle cx="351.8" cy="29.8" r="2.50"/><circle cx="358.0" cy="27.6" r="2.50"/><circle cx="365.7" cy="26.2" r="2.50"/><circle cx="373.3" cy="31.8" r="2.50"/><circle cx="381.4" cy="29.5" r="2.50"/><circle cx="388.6" cy="34.4" r="2.50"/><circle cx="396.7" cy="38.3" r="2.50"/><circle cx="403.4" cy="43.4" r="2.50"/><circle cx="411.9" cy="47.7" r="2.50"/><circle cx="422.5" cy="54.8" r="2.50"/><circle cx="427.8" cy="53.1" r="2.50"/><circle cx="435.4" cy="61.3" r="2.50"/><circle cx="326.9" cy="58.7" r="2.50"/><circle cx="332.9" cy="55.1" r="2.50"/><circle cx="339.2" cy="45.4" r="2.50"/><circle cx="348.5" cy="34.8" r="2.50"/><circle cx="354.8" cy="30.0" r="2.50"/><circle cx="363.3" cy="30.0" r="2.50"/><circle cx="371.8" cy="31.9" r="2.50"/><circle cx="379.3" cy="36.3" r="2.50"/><circle cx="388.2" cy="37.3" r="2.50"/><circle cx="393.8" cy="39.2" r="2.50"/><circle cx="399.9" cy="41.8" r="2.50"/><circle cx="408.2" cy="42.8" r="2.50"/><circle cx="415.6" cy="48.7" r="2.50"/><circle cx="422.8" cy="52.6" r="2.50"/><circle cx="345.0" cy="38.1" r="2.50"/><circle cx="351.3" cy="33.4" r="2.50"/><circle cx="357.8" cy="23.4" r="2.50"/><circle cx="365.2" cy="23.6" r="2.50"/><circle cx="374.6" cy="27.0" r="2.50"/><circle cx="382.8" cy="33.6" r="2.50"/><circle cx="390.0" cy="33.7" r="2.50"/><circle cx="398.8" cy="39.0" r="2.50"/><circle cx="405.9" cy="43.3" r="2.50"/><circle cx="415.1" cy="46.5" r="2.50"/><circle cx="385.0" cy="24.0" r="2.50"/><circle cx="411.0" cy="33.0" r="2.50"/><circle cx="413.0" cy="38.4" r="2.50"/><circle cx="396.5" cy="32.6" r="2.50"/><circle cx="358.0" cy="18.8" r="2.50"/></g>
<path d="M298.3,78.0 L299.5,78.1 L300.8,78.3 L302.0,78.4 L303.2,78.5 L304.5,78.5 L305.7,78.5 L307.0,78.4 L308.2,78.2 L309.4,78.0 L310.7,77.6 L311.9,77.1 L313.1,76.4 L314.4,75.6 L315.6,74.7 L316.9,73.6 L318.1,72.5 L319.3,71.2 L320.6,69.9 L321.8,68.5 L323.0,67.0 L324.3,65.5 L325.5,64.0 L326.8,62.4 L328.0,60.7 L329.2,59.1 L330.5,57.4 L331.7,55.7 L332.9,54.0 L334.2,52.2 L335.4,50.5 L336.6,48.7 L337.9,47.0 L339.1,45.2 L340.4,43.5 L341.6,41.8 L342.8,40.0 L344.1,38.4 L345.3,36.7 L346.5,35.2 L347.8,33.7 L349.0,32.4 L350.3,31.2 L351.5,30.1 L352.7,29.1 L354.0,28.2 L355.2,27.4 L356.4,26.8 L357.7,26.3 L358.9,25.9 L360.1,25.6 L361.4,25.5 L362.6,25.4 L363.9,25.5 L365.1,25.7 L366.3,25.9 L367.6,26.3 L368.8,26.7 L370.0,27.1 L371.3,27.7 L372.5,28.2 L373.8,28.8 L375.0,29.3 L376.2,29.9 L377.5,30.5 L378.7,31.0 L379.9,31.5 L381.2,32.1 L382.4,32.6 L383.7,33.1 L384.9,33.6 L386.1,34.1 L387.4,34.7 L388.6,35.2 L389.8,35.7 L391.1,36.3 L392.3,36.8 L393.5,37.4 L394.8,38.0 L396.0,38.6 L397.3,39.2 L398.5,39.8 L399.7,40.4 L401.0,41.0 L402.2,41.6 L403.4,42.2 L404.7,42.8 L405.9,43.5 L407.2,44.1 L408.4,44.7 L409.6,45.4 L410.9,46.0 L412.1,46.7 L413.3,47.3 L414.6,48.0 L415.8,48.6 L417.0,49.3 L418.3,50.0 L419.5,50.7 L420.8,51.4 L422.0,52.1 L423.2,52.8 L424.5,53.5 L425.7,54.2 L426.9,55.0 L428.2,55.7 L429.4,56.4 L430.7,57.1 L431.9,57.9 L433.1,58.6 L434.4,59.3 L435.6,60.1 L436.8,60.8 L438.1,61.5 L439.3,62.2 L440.6,62.9 L441.8,63.5 L443.0,64.2 L444.3,64.9 L445.5,65.5" fill="none" stroke="#88419d" stroke-width="2.6" stroke-linecap="butt" clip-path="url(#cc)"/>
<g fill="#84288c" clip-path="url(#cc)"><circle cx="301.7" cy="79.5" r="2.50"/><circle cx="310.0" cy="78.3" r="2.50"/><circle cx="317.2" cy="75.6" r="2.50"/><circle cx="323.2" cy="70.8" r="2.50"/><circle cx="332.2" cy="61.0" r="2.50"/><circle cx="341.2" cy="44.9" r="2.50"/><circle cx="348.5" cy="32.8" r="2.50"/><circle cx="355.5" cy="29.6" r="2.50"/><circle cx="362.2" cy="28.9" r="2.50"/><circle cx="371.5" cy="31.8" r="2.50"/><circle cx="377.8" cy="36.6" r="2.50"/><circle cx="384.8" cy="37.9" r="2.50"/><circle cx="392.8" cy="42.1" r="2.50"/><circle cx="402.9" cy="43.7" r="2.50"/><circle cx="409.2" cy="50.0" r="2.50"/><circle cx="417.8" cy="56.6" r="2.50"/><circle cx="423.7" cy="57.8" r="2.50"/><circle cx="432.8" cy="62.4" r="2.50"/><circle cx="438.8" cy="65.7" r="2.50"/><circle cx="305.6" cy="78.8" r="2.50"/><circle cx="313.9" cy="78.9" r="2.50"/><circle cx="321.9" cy="72.2" r="2.50"/><circle cx="328.3" cy="65.4" r="2.50"/><circle cx="336.8" cy="57.3" r="2.50"/><circle cx="343.8" cy="44.0" r="2.50"/><circle cx="351.9" cy="39.5" r="2.50"/><circle cx="359.3" cy="33.7" r="2.50"/><circle cx="365.9" cy="35.3" r="2.50"/><circle cx="374.8" cy="35.2" r="2.50"/><circle cx="383.4" cy="36.7" r="2.50"/><circle cx="389.2" cy="40.4" r="2.50"/><circle cx="397.6" cy="44.8" r="2.50"/><circle cx="406.2" cy="47.9" r="2.50"/><circle cx="412.1" cy="51.6" r="2.50"/><circle cx="421.1" cy="54.9" r="2.50"/><circle cx="427.4" cy="56.0" r="2.50"/><circle cx="437.4" cy="66.7" r="2.50"/><circle cx="325.0" cy="68.6" r="2.50"/><circle cx="333.7" cy="60.2" r="2.50"/><circle cx="339.7" cy="53.6" r="2.50"/><circle cx="347.1" cy="43.5" r="2.50"/><circle cx="355.3" cy="39.2" r="2.50"/><circle cx="364.4" cy="36.3" r="2.50"/><circle cx="369.3" cy="35.8" r="2.50"/><circle cx="379.7" cy="37.8" r="2.50"/><circle cx="385.4" cy="40.1" r="2.50"/><circle cx="392.6" cy="42.4" r="2.50"/><circle cx="402.7" cy="45.7" r="2.50"/><circle cx="408.9" cy="48.9" r="2.50"/><circle cx="415.3" cy="54.7" r="2.50"/><circle cx="424.0" cy="58.2" r="2.50"/><circle cx="344.6" cy="43.3" r="2.50"/><circle cx="354.2" cy="34.4" r="2.50"/><circle cx="358.7" cy="32.3" r="2.50"/><circle cx="368.1" cy="30.5" r="2.50"/><circle cx="374.7" cy="34.5" r="2.50"/><circle cx="384.8" cy="33.6" r="2.50"/><circle cx="392.4" cy="41.7" r="2.50"/><circle cx="396.3" cy="40.9" r="2.50"/><circle cx="405.1" cy="48.4" r="2.50"/><circle cx="414.6" cy="51.4" r="2.50"/></g>
<path d="M298.3,80.0 L299.5,80.2 L300.8,80.3 L302.0,80.5 L303.2,80.7 L304.5,80.9 L305.7,81.0 L307.0,81.0 L308.2,81.0 L309.4,80.9 L310.7,80.7 L311.9,80.4 L313.1,79.9 L314.4,79.3 L315.6,78.6 L316.9,77.7 L318.1,76.7 L319.3,75.6 L320.6,74.5 L321.8,73.2 L323.0,71.9 L324.3,70.5 L325.5,69.1 L326.8,67.6 L328.0,66.1 L329.2,64.5 L330.5,62.9 L331.7,61.3 L332.9,59.6 L334.2,57.9 L335.4,56.3 L336.6,54.6 L337.9,52.9 L339.1,51.2 L340.4,49.5 L341.6,47.9 L342.8,46.2 L344.1,44.6 L345.3,43.1 L346.5,41.6 L347.8,40.2 L349.0,38.9 L350.3,37.7 L351.5,36.6 L352.7,35.6 L354.0,34.7 L355.2,33.9 L356.4,33.3 L357.7,32.7 L358.9,32.3 L360.1,31.9 L361.4,31.7 L362.6,31.5 L363.9,31.5 L365.1,31.5 L366.3,31.7 L367.6,31.9 L368.8,32.1 L370.0,32.5 L371.3,32.8 L372.5,33.2 L373.8,33.7 L375.0,34.1 L376.2,34.6 L377.5,35.0 L378.7,35.5 L379.9,36.0 L381.2,36.5 L382.4,36.9 L383.7,37.4 L384.9,37.9 L386.1,38.4 L387.4,38.9 L388.6,39.4 L389.8,39.9 L391.1,40.5 L392.3,41.0 L393.5,41.5 L394.8,42.1 L396.0,42.7 L397.3,43.2 L398.5,43.8 L399.7,44.4 L401.0,45.0 L402.2,45.6 L403.4,46.2 L404.7,46.8 L405.9,47.4 L407.2,48.1 L408.4,48.7 L409.6,49.3 L410.9,50.0 L412.1,50.6 L413.3,51.3 L414.6,51.9 L415.8,52.6 L417.0,53.3 L418.3,54.0 L419.5,54.7 L420.8,55.4 L422.0,56.1 L423.2,56.8 L424.5,57.5 L425.7,58.2 L426.9,59.0 L428.2,59.7 L429.4,60.4 L430.7,61.2 L431.9,61.9 L433.1,62.6 L434.4,63.3 L435.6,64.1 L436.8,64.8 L438.1,65.5 L439.3,66.2 L440.6,66.9 L441.8,67.5 L443.0,68.2 L444.3,68.9 L445.5,69.5" fill="none" stroke="#84288c" stroke-width="2.6" stroke-linecap="butt" clip-path="url(#cc)"/>
<g fill="#810f7c" clip-path="url(#cc)"><circle cx="299.7" cy="80.2" r="2.50"/><circle cx="306.7" cy="80.6" r="2.50"/><circle cx="316.1" cy="82.7" r="2.50"/><circle cx="324.3" cy="74.0" r="2.50"/><circle cx="332.6" cy="66.7" r="2.50"/><circle cx="339.1" cy="57.1" r="2.50"/><circle cx="348.1" cy="43.6" r="2.50"/><circle cx="354.7" cy="38.2" r="2.50"/><circle cx="362.3" cy="37.1" r="2.50"/><circle cx="370.7" cy="38.1" r="2.50"/><circle cx="379.0" cy="42.1" r="2.50"/><circle cx="385.2" cy="45.5" r="2.50"/><circle cx="393.0" cy="48.3" r="2.50"/><circle cx="400.8" cy="55.8" r="2.50"/><circle cx="408.8" cy="57.1" r="2.50"/><circle cx="415.5" cy="64.6" r="2.50"/><circle cx="425.2" cy="67.3" r="2.50"/><circle cx="431.4" cy="70.2" r="2.50"/><circle cx="440.0" cy="75.3" r="2.50"/><circle cx="302.3" cy="82.5" r="2.50"/><circle cx="310.7" cy="79.0" r="2.50"/><circle cx="317.4" cy="79.1" r="2.50"/><circle cx="326.3" cy="73.9" r="2.50"/><circle cx="336.8" cy="61.6" r="2.50"/><circle cx="341.7" cy="56.3" r="2.50"/><circle cx="351.2" cy="50.5" r="2.50"/><circle cx="356.8" cy="46.9" r="2.50"/><circle cx="366.3" cy="48.5" r="2.50"/><circle cx="373.4" cy="51.7" r="2.50"/><circle cx="381.4" cy="50.3" r="2.50"/><circle cx="389.8" cy="49.8" r="2.50"/><circle cx="398.8" cy="55.2" r="2.50"/><circle cx="404.9" cy="59.5" r="2.50"/><circle cx="412.6" cy="65.7" r="2.50"/><circle cx="419.1" cy="66.0" r="2.50"/><circle cx="428.5" cy="70.4" r="2.50"/><circle cx="435.4" cy="76.2" r="2.50"/><circle cx="326.9" cy="73.4" r="2.50"/><circle cx="334.0" cy="59.7" r="2.50"/><circle cx="342.5" cy="51.9" r="2.50"/><circle cx="348.5" cy="47.1" r="2.50"/><circle cx="359.3" cy="40.5" r="2.50"/><circle cx="365.4" cy="40.5" r="2.50"/><circle cx="374.2" cy="42.2" r="2.50"/><circle cx="383.3" cy="45.6" r="2.50"/><circle cx="390.1" cy="51.8" r="2.50"/><circle cx="395.3" cy="49.8" r="2.50"/><circle cx="405.0" cy="59.1" r="2.50"/><circle cx="412.9" cy="62.1" r="2.50"/><circle cx="418.5" cy="66.1" r="2.50"/><circle cx="425.9" cy="69.6" r="2.50"/><circle cx="342.5" cy="55.7" r="2.50"/><circle cx="350.0" cy="48.7" r="2.50"/><circle cx="356.9" cy="46.7" r="2.50"/><circle cx="367.8" cy="43.0" r="2.50"/><circle cx="376.1" cy="44.2" r="2.50"/><circle cx="380.1" cy="44.3" r="2.50"/><circle cx="389.9" cy="51.0" r="2.50"/><circle cx="400.2" cy="55.6" r="2.50"/><circle cx="406.4" cy="60.2" r="2.50"/><circle cx="413.8" cy="65.9" r="2.50"/></g>
<path d="M298.3,81.5 L299.5,81.7 L300.8,81.9 L302.0,82.1 L303.2,82.4 L304.5,82.7 L305.7,82.9 L307.0,83.2 L308.2,83.3 L309.4,83.4 L310.7,83.4 L311.9,83.2 L313.1,83.0 L314.4,82.5 L315.6,82.0 L316.9,81.3 L318.1,80.4 L319.3,79.5 L320.6,78.5 L321.8,77.5 L323.0,76.3 L324.3,75.1 L325.5,73.8 L326.8,72.5 L328.0,71.2 L329.2,69.9 L330.5,68.5 L331.7,67.1 L332.9,65.7 L334.2,64.3 L335.4,62.9 L336.6,61.6 L337.9,60.2 L339.1,58.9 L340.4,57.5 L341.6,56.3 L342.8,55.0 L344.1,53.7 L345.3,52.5 L346.5,51.3 L347.8,50.2 L349.0,49.1 L350.3,48.0 L351.5,47.0 L352.7,46.1 L354.0,45.2 L355.2,44.5 L356.4,43.8 L357.7,43.2 L358.9,42.7 L360.1,42.3 L361.4,42.0 L362.6,41.7 L363.9,41.5 L365.1,41.4 L366.3,41.3 L367.6,41.3 L368.8,41.4 L370.0,41.5 L371.3,41.7 L372.5,42.0 L373.8,42.2 L375.0,42.6 L376.2,43.0 L377.5,43.4 L378.7,44.0 L379.9,44.5 L381.2,45.1 L382.4,45.7 L383.7,46.4 L384.9,47.1 L386.1,47.8 L387.4,48.6 L388.6,49.3 L389.8,50.1 L391.1,50.9 L392.3,51.6 L393.5,52.4 L394.8,53.2 L396.0,54.0 L397.3,54.7 L398.5,55.5 L399.7,56.2 L401.0,57.0 L402.2,57.7 L403.4,58.4 L404.7,59.1 L405.9,59.8 L407.2,60.5 L408.4,61.2 L409.6,61.8 L410.9,62.4 L412.1,63.1 L413.3,63.7 L414.6,64.3 L415.8,64.9 L417.0,65.5 L418.3,66.0 L419.5,66.6 L420.8,67.2 L422.0,67.7 L423.2,68.3 L424.5,68.9 L425.7,69.4 L426.9,70.0 L428.2,70.6 L429.4,71.1 L430.7,71.7 L431.9,72.3 L433.1,72.9 L434.4,73.5 L435.6,74.1 L436.8,74.7 L438.1,75.3 L439.3,76.0 L440.6,76.7 L441.8,77.3 L443.0,78.0 L444.3,78.8 L445.5,79.5" fill="none" stroke="#810f7c" stroke-width="2.6" stroke-linecap="butt" clip-path="url(#cc)"/>
<g fill="#670864" clip-path="url(#cc)"><circle cx="301.8" cy="85.6" r="2.50"/><circle cx="309.4" cy="85.4" r="2.50"/><circle cx="318.3" cy="84.1" r="2.50"/><circle cx="324.2" cy="82.0" r="2.50"/><circle cx="334.5" cy="74.5" r="2.50"/><circle cx="340.9" cy="66.7" r="2.50"/><circle cx="347.9" cy="58.8" r="2.50"/><circle cx="355.9" cy="52.9" r="2.50"/><circle cx="363.5" cy="50.3" r="2.50"/><circle cx="372.2" cy="51.6" r="2.50"/><circle cx="379.0" cy="56.3" r="2.50"/><circle cx="388.7" cy="66.8" r="2.50"/><circle cx="394.5" cy="69.2" r="2.50"/><circle cx="400.7" cy="74.3" r="2.50"/><circle cx="410.1" cy="81.2" r="2.50"/><circle cx="416.5" cy="89.3" r="2.50"/><circle cx="426.4" cy="90.0" r="2.50"/><circle cx="435.3" cy="95.4" r="2.50"/><circle cx="442.7" cy="98.0" r="2.50"/><circle cx="306.3" cy="83.4" r="2.50"/><circle cx="313.8" cy="85.2" r="2.50"/><circle cx="320.8" cy="83.4" r="2.50"/><circle cx="329.4" cy="76.7" r="2.50"/><circle cx="338.8" cy="65.8" r="2.50"/><circle cx="346.1" cy="63.9" r="2.50"/><circle cx="352.9" cy="59.9" r="2.50"/><circle cx="361.4" cy="58.8" r="2.50"/><circle cx="369.7" cy="62.3" r="2.50"/><circle cx="378.0" cy="66.7" r="2.50"/><circle cx="384.7" cy="70.3" r="2.50"/><circle cx="393.0" cy="72.0" r="2.50"/><circle cx="399.2" cy="77.0" r="2.50"/><circle cx="407.7" cy="82.7" r="2.50"/><circle cx="418.5" cy="90.0" r="2.50"/><circle cx="422.3" cy="92.7" r="2.50"/><circle cx="432.2" cy="95.3" r="2.50"/><circle cx="324.6" cy="82.0" r="2.50"/><circle cx="334.3" cy="75.6" r="2.50"/><circle cx="341.5" cy="67.4" r="2.50"/><circle cx="349.6" cy="61.9" r="2.50"/><circle cx="356.1" cy="63.0" r="2.50"/><circle cx="365.0" cy="64.0" r="2.50"/><circle cx="373.9" cy="65.7" r="2.50"/><circle cx="382.9" cy="70.8" r="2.50"/><circle cx="390.9" cy="72.5" r="2.50"/><circle cx="397.8" cy="72.7" r="2.50"/><circle cx="405.6" cy="81.0" r="2.50"/><circle cx="412.9" cy="87.2" r="2.50"/><circle cx="422.2" cy="90.5" r="2.50"/><circle cx="341.5" cy="63.4" r="2.50"/><circle cx="349.2" cy="61.5" r="2.50"/><circle cx="357.1" cy="56.3" r="2.50"/><circle cx="364.4" cy="55.0" r="2.50"/><circle cx="371.7" cy="59.4" r="2.50"/><circle cx="379.2" cy="64.2" r="2.50"/><circle cx="385.8" cy="67.5" r="2.50"/><circle cx="390.8" cy="66.2" r="2.50"/><circle cx="399.5" cy="73.5" r="2.50"/><circle cx="407.3" cy="79.0" r="2.50"/><circle cx="413.9" cy="82.8" r="2.50"/></g>
<path d="M298.3,84.2 L299.5,84.6 L300.8,84.9 L302.0,85.3 L303.2,85.6 L304.5,85.9 L305.7,86.2 L307.0,86.5 L308.2,86.7 L309.4,86.9 L310.7,87.0 L311.9,87.0 L313.1,87.0 L314.4,86.9 L315.6,86.7 L316.9,86.3 L318.1,85.9 L319.3,85.4 L320.6,84.7 L321.8,83.9 L323.0,82.9 L324.3,81.9 L325.5,80.8 L326.8,79.7 L328.0,78.5 L329.2,77.3 L330.5,76.1 L331.7,74.9 L332.9,73.6 L334.2,72.4 L335.4,71.3 L336.6,70.1 L337.9,69.0 L339.1,68.0 L340.4,67.0 L341.6,66.0 L342.8,65.1 L344.1,64.3 L345.3,63.4 L346.5,62.7 L347.8,61.9 L349.0,61.2 L350.3,60.6 L351.5,60.0 L352.7,59.4 L354.0,58.9 L355.2,58.4 L356.4,58.0 L357.7,57.6 L358.9,57.3 L360.1,57.1 L361.4,57.0 L362.6,57.0 L363.9,57.1 L365.1,57.4 L366.3,57.7 L367.6,58.1 L368.8,58.6 L370.0,59.1 L371.3,59.7 L372.5,60.3 L373.8,60.9 L375.0,61.5 L376.2,62.1 L377.5,62.8 L378.7,63.4 L379.9,64.1 L381.2,64.8 L382.4,65.5 L383.7,66.3 L384.9,67.1 L386.1,67.8 L387.4,68.6 L388.6,69.3 L389.8,70.1 L391.1,70.7 L392.3,71.4 L393.5,72.0 L394.8,72.6 L396.0,73.2 L397.3,73.8 L398.5,74.4 L399.7,75.1 L401.0,75.8 L402.2,76.5 L403.4,77.3 L404.7,78.2 L405.9,79.0 L407.2,79.9 L408.4,80.8 L409.6,81.7 L410.9,82.6 L412.1,83.5 L413.3,84.3 L414.6,85.2 L415.8,86.0 L417.0,86.8 L418.3,87.6 L419.5,88.4 L420.8,89.2 L422.0,89.9 L423.2,90.6 L424.5,91.3 L425.7,92.0 L426.9,92.7 L428.2,93.3 L429.4,93.9 L430.7,94.5 L431.9,95.1 L433.1,95.6 L434.4,96.2 L435.6,96.7 L436.8,97.2 L438.1,97.7 L439.3,98.1 L440.6,98.5 L441.8,98.9 L443.0,99.3 L444.3,99.7 L445.5,100.0" fill="none" stroke="#670864" stroke-width="2.6" stroke-linecap="butt" clip-path="url(#cc)"/>
<g fill="#4d004b" clip-path="url(#cc)"><circle cx="303.2" cy="98.4" r="2.50"/><circle cx="308.3" cy="98.7" r="2.50"/><circle cx="315.2" cy="98.2" r="2.50"/><circle cx="324.5" cy="95.4" r="2.50"/><circle cx="332.5" cy="93.0" r="2.50"/><circle cx="339.0" cy="90.6" r="2.50"/><circle cx="348.3" cy="91.5" r="2.50"/><circle cx="354.7" cy="93.2" r="2.50"/><circle cx="362.0" cy="99.5" r="2.50"/><circle cx="370.9" cy="103.8" r="2.50"/><circle cx="379.2" cy="101.6" r="2.50"/><circle cx="385.5" cy="99.9" r="2.50"/><circle cx="394.2" cy="104.3" r="2.50"/><circle cx="401.5" cy="108.3" r="2.50"/><circle cx="412.3" cy="120.3" r="2.50"/><circle cx="416.3" cy="119.1" r="2.50"/><circle cx="426.3" cy="128.1" r="2.50"/><circle cx="432.5" cy="129.5" r="2.50"/><circle cx="440.1" cy="133.8" r="2.50"/><circle cx="306.6" cy="96.7" r="2.50"/><circle cx="314.7" cy="98.7" r="2.50"/><circle cx="322.7" cy="97.4" r="2.50"/><circle cx="329.7" cy="89.0" r="2.50"/><circle cx="338.1" cy="79.1" r="2.50"/><circle cx="347.7" cy="66.6" r="2.50"/><circle cx="352.0" cy="69.7" r="2.50"/><circle cx="361.9" cy="75.7" r="2.50"/><circle cx="368.5" cy="80.6" r="2.50"/><circle cx="377.5" cy="89.8" r="2.50"/><circle cx="386.0" cy="94.1" r="2.50"/><circle cx="392.9" cy="102.8" r="2.50"/><circle cx="401.6" cy="111.5" r="2.50"/><circle cx="406.9" cy="111.8" r="2.50"/><circle cx="417.6" cy="119.8" r="2.50"/><circle cx="423.6" cy="122.3" r="2.50"/><circle cx="432.7" cy="123.6" r="2.50"/><circle cx="328.0" cy="94.4" r="2.50"/><circle cx="336.0" cy="92.9" r="2.50"/><circle cx="344.1" cy="84.3" r="2.50"/><circle cx="351.0" cy="84.9" r="2.50"/><circle cx="358.4" cy="89.2" r="2.50"/><circle cx="364.7" cy="90.3" r="2.50"/><circle cx="371.6" cy="94.0" r="2.50"/><circle cx="380.5" cy="101.1" r="2.50"/><circle cx="387.1" cy="100.9" r="2.50"/><circle cx="393.9" cy="103.2" r="2.50"/><circle cx="401.4" cy="107.5" r="2.50"/><circle cx="409.7" cy="115.5" r="2.50"/><circle cx="415.7" cy="119.5" r="2.50"/><circle cx="423.7" cy="121.7" r="2.50"/><circle cx="341.9" cy="88.6" r="2.50"/><circle cx="347.9" cy="79.5" r="2.50"/><circle cx="356.6" cy="80.8" r="2.50"/><circle cx="363.8" cy="82.7" r="2.50"/><circle cx="368.6" cy="84.9" r="2.50"/><circle cx="377.5" cy="90.0" r="2.50"/><circle cx="385.6" cy="94.1" r="2.50"/><circle cx="391.8" cy="102.0" r="2.50"/><circle cx="397.5" cy="104.1" r="2.50"/><circle cx="406.7" cy="107.7" r="2.50"/><circle cx="415.1" cy="122.0" r="2.50"/><circle cx="384.3" cy="115.7" r="2.50"/><circle cx="401.5" cy="114.3" r="2.50"/><circle cx="412.9" cy="120.8" r="2.50"/><circle cx="427.2" cy="130.0" r="2.50"/><circle cx="358.0" cy="99.6" r="2.50"/><circle cx="370.6" cy="103.2" r="2.50"/><circle cx="370.6" cy="72.6" r="2.50"/><circle cx="384.0" cy="83.4" r="2.50"/></g>
<path d="M298.3,97.0 L299.5,97.4 L300.8,97.8 L302.0,98.3 L303.2,98.7 L304.5,99.1 L305.7,99.4 L307.0,99.7 L308.2,100.0 L309.4,100.2 L310.7,100.4 L311.9,100.5 L313.1,100.5 L314.4,100.4 L315.6,100.3 L316.9,100.0 L318.1,99.7 L319.3,99.3 L320.6,98.7 L321.8,98.1 L323.0,97.4 L324.3,96.6 L325.5,95.8 L326.8,94.9 L328.0,94.1 L329.2,93.3 L330.5,92.5 L331.7,91.8 L332.9,91.0 L334.2,90.3 L335.4,89.6 L336.6,88.9 L337.9,88.2 L339.1,87.5 L340.4,86.9 L341.6,86.3 L342.8,85.7 L344.1,85.1 L345.3,84.6 L346.5,84.2 L347.8,83.9 L349.0,83.6 L350.3,83.4 L351.5,83.2 L352.7,83.2 L354.0,83.2 L355.2,83.3 L356.4,83.5 L357.7,83.7 L358.9,84.0 L360.1,84.4 L361.4,84.8 L362.6,85.3 L363.9,85.9 L365.1,86.6 L366.3,87.3 L367.6,88.0 L368.8,88.8 L370.0,89.5 L371.3,90.3 L372.5,91.1 L373.8,91.9 L375.0,92.6 L376.2,93.3 L377.5,94.0 L378.7,94.7 L379.9,95.4 L381.2,96.1 L382.4,96.8 L383.7,97.6 L384.9,98.3 L386.1,99.1 L387.4,99.9 L388.6,100.7 L389.8,101.5 L391.1,102.2 L392.3,103.0 L393.5,103.8 L394.8,104.6 L396.0,105.4 L397.3,106.2 L398.5,107.0 L399.7,107.9 L401.0,108.7 L402.2,109.5 L403.4,110.3 L404.7,111.1 L405.9,111.9 L407.2,112.8 L408.4,113.6 L409.6,114.4 L410.9,115.2 L412.1,116.1 L413.3,116.9 L414.6,117.7 L415.8,118.5 L417.0,119.4 L418.3,120.2 L419.5,121.0 L420.8,121.7 L422.0,122.5 L423.2,123.1 L424.5,123.7 L425.7,124.3 L426.9,124.9 L428.2,125.4 L429.4,125.8 L430.7,126.3 L431.9,126.8 L433.1,127.2 L434.4,127.6 L435.6,128.1 L436.8,128.5 L438.1,128.9 L439.3,129.3 L440.6,129.7 L441.8,130.0 L443.0,130.3 L444.3,130.6 L445.5,130.9" fill="none" stroke="#4d004b" stroke-width="2.6" stroke-linecap="butt" clip-path="url(#cc)"/>
<g fill="#bfd3e6" clip-path="url(#cb)"><circle cx="217.0" cy="195.7" r="2.05"/><circle cx="219.2" cy="195.7" r="2.05"/><circle cx="222.0" cy="188.5" r="2.05"/><circle cx="227.0" cy="187.6" r="2.05"/><circle cx="230.0" cy="183.5" r="2.05"/><circle cx="233.6" cy="178.6" r="2.05"/><circle cx="237.2" cy="182.6" r="2.05"/><circle cx="241.4" cy="183.6" r="2.05"/><circle cx="246.2" cy="184.0" r="2.05"/><circle cx="251.3" cy="186.7" r="2.05"/><circle cx="257.6" cy="187.0" r="2.05"/></g>
<path d="M215.7,187.0 H260.1" stroke="#bfd3e6" stroke-width="2.4" fill="none"/>
<g fill="#aec8e0" clip-path="url(#cb)"><circle cx="217.0" cy="173.6" r="2.05"/><circle cx="219.7" cy="167.5" r="2.05"/><circle cx="222.0" cy="168.7" r="2.05"/><circle cx="224.2" cy="160.6" r="2.05"/><circle cx="227.5" cy="158.8" r="2.05"/><circle cx="230.0" cy="157.9" r="2.05"/><circle cx="233.2" cy="157.9" r="2.05"/><circle cx="237.2" cy="153.8" r="2.05"/><circle cx="241.4" cy="151.3" r="2.05"/><circle cx="246.2" cy="158.8" r="2.05"/><circle cx="251.3" cy="156.1" r="2.05"/><circle cx="257.6" cy="161.0" r="2.05"/></g>
<path d="M215.7,160.7 H260.1" stroke="#aec8e0" stroke-width="2.4" fill="none"/>
<g fill="#9ebcda" clip-path="url(#cb)"><circle cx="217.0" cy="146.6" r="2.05"/><circle cx="219.2" cy="145.3" r="2.05"/><circle cx="222.0" cy="141.7" r="2.05"/><circle cx="224.6" cy="143.0" r="2.05"/><circle cx="227.5" cy="136.8" r="2.05"/><circle cx="230.0" cy="130.0" r="2.05"/><circle cx="233.6" cy="132.2" r="2.05"/><circle cx="237.2" cy="127.9" r="2.05"/><circle cx="241.4" cy="132.5" r="2.05"/><circle cx="246.2" cy="135.0" r="2.05"/><circle cx="251.3" cy="138.6" r="2.05"/><circle cx="257.6" cy="137.6" r="2.05"/></g>
<path d="M215.7,137.5 H260.1" stroke="#9ebcda" stroke-width="2.4" fill="none"/>
<g fill="#95a9d0" clip-path="url(#cb)"><circle cx="217.0" cy="122.8" r="2.05"/><circle cx="220.6" cy="121.9" r="2.05"/><circle cx="224.2" cy="120.7" r="2.05"/><circle cx="227.5" cy="118.9" r="2.05"/><circle cx="230.0" cy="116.0" r="2.05"/><circle cx="233.6" cy="110.6" r="2.05"/><circle cx="237.2" cy="108.1" r="2.05"/><circle cx="241.4" cy="111.7" r="2.05"/><circle cx="246.2" cy="112.4" r="2.05"/><circle cx="251.3" cy="112.0" r="2.05"/><circle cx="257.6" cy="116.5" r="2.05"/></g>
<path d="M215.7,116.1 H260.1" stroke="#95a9d0" stroke-width="2.4" fill="none"/>
<g fill="#8c96c6" clip-path="url(#cb)"><circle cx="217.0" cy="102.1" r="2.05"/><circle cx="219.7" cy="100.3" r="2.05"/><circle cx="222.4" cy="98.5" r="2.05"/><circle cx="227.0" cy="102.1" r="2.05"/><circle cx="230.5" cy="98.5" r="2.05"/><circle cx="233.2" cy="96.7" r="2.05"/><circle cx="237.2" cy="89.9" r="2.05"/><circle cx="241.4" cy="89.5" r="2.05"/><circle cx="245.9" cy="90.0" r="2.05"/><circle cx="251.3" cy="86.8" r="2.05"/><circle cx="257.6" cy="98.0" r="2.05"/></g>
<path d="M215.7,95.5 H260.1" stroke="#8c96c6" stroke-width="2.4" fill="none"/>
<g fill="#8c80bc" clip-path="url(#cb)"><circle cx="217.0" cy="84.1" r="2.05"/><circle cx="219.2" cy="82.3" r="2.05"/><circle cx="222.0" cy="76.9" r="2.05"/><circle cx="224.6" cy="82.9" r="2.05"/><circle cx="227.0" cy="82.9" r="2.05"/><circle cx="230.0" cy="76.9" r="2.05"/><circle cx="237.2" cy="77.5" r="2.05"/><circle cx="241.4" cy="77.8" r="2.05"/><circle cx="246.2" cy="78.7" r="2.05"/><circle cx="251.3" cy="76.9" r="2.05"/><circle cx="257.6" cy="83.2" r="2.05"/></g>
<path d="M215.7,80.1 H260.1" stroke="#8c80bc" stroke-width="2.4" fill="none"/>
<g fill="#8c6bb1" clip-path="url(#cb)"><circle cx="217.0" cy="64.3" r="2.05"/><circle cx="221.5" cy="66.1" r="2.05"/><circle cx="224.6" cy="63.4" r="2.05"/><circle cx="227.0" cy="67.0" r="2.05"/><circle cx="230.0" cy="70.6" r="2.05"/><circle cx="233.2" cy="70.3" r="2.05"/><circle cx="237.2" cy="72.4" r="2.05"/><circle cx="241.4" cy="68.3" r="2.05"/><circle cx="246.2" cy="66.7" r="2.05"/><circle cx="246.2" cy="69.7" r="2.05"/><circle cx="251.3" cy="67.9" r="2.05"/><circle cx="257.6" cy="69.7" r="2.05"/></g>
<path d="M215.7,69.1 H260.1" stroke="#8c6bb1" stroke-width="2.4" fill="none"/>
<g fill="#8a56a7" clip-path="url(#cb)"><circle cx="217.0" cy="58.0" r="2.05"/><circle cx="219.2" cy="55.9" r="2.05"/><circle cx="222.0" cy="58.9" r="2.05"/><circle cx="224.6" cy="59.8" r="2.05"/><circle cx="227.5" cy="60.2" r="2.05"/><circle cx="230.0" cy="60.7" r="2.05"/><circle cx="233.2" cy="61.6" r="2.05"/><circle cx="237.2" cy="62.9" r="2.05"/></g>
<path d="M215.7,62.7 H260.1" stroke="#8a56a7" stroke-width="2.4" fill="none"/>
<g fill="#88419d" clip-path="url(#cd)"><circle cx="466.1" cy="54.0" r="2.05"/><circle cx="470.3" cy="52.3" r="2.05"/><circle cx="466.1" cy="59.8" r="2.05"/><circle cx="468.8" cy="62.5" r="2.05"/><circle cx="472.4" cy="59.8" r="2.05"/><circle cx="475.1" cy="61.3" r="2.05"/><circle cx="478.7" cy="57.1" r="2.05"/><circle cx="482.0" cy="62.5" r="2.05"/><circle cx="486.0" cy="63.4" r="2.05"/><circle cx="489.5" cy="66.1" r="2.05"/><circle cx="494.0" cy="66.7" r="2.05"/><circle cx="499.5" cy="67.4" r="2.05"/><circle cx="506.7" cy="68.8" r="2.05"/></g>
<path d="M464.0,61.6 H508.8" stroke="#88419d" stroke-width="2.4" fill="none"/>
<g fill="#84288c" clip-path="url(#cd)"><circle cx="466.5" cy="63.5" r="2.05"/><circle cx="469.5" cy="63.8" r="2.05"/><circle cx="472.4" cy="63.0" r="2.05"/><circle cx="475.5" cy="64.5" r="2.05"/><circle cx="478.7" cy="67.0" r="2.05"/><circle cx="481.5" cy="67.4" r="2.05"/><circle cx="486.0" cy="69.7" r="2.05"/><circle cx="489.5" cy="71.5" r="2.05"/><circle cx="495.0" cy="75.1" r="2.05"/><circle cx="499.5" cy="75.1" r="2.05"/><circle cx="506.7" cy="75.1" r="2.05"/></g>
<path d="M464.0,68.5 H508.8" stroke="#84288c" stroke-width="2.4" fill="none"/>
<g fill="#810f7c" clip-path="url(#cd)"><circle cx="466.1" cy="71.5" r="2.05"/><circle cx="468.8" cy="73.3" r="2.05"/><circle cx="472.4" cy="72.4" r="2.05"/><circle cx="476.0" cy="77.5" r="2.05"/><circle cx="478.7" cy="79.3" r="2.05"/><circle cx="482.3" cy="80.5" r="2.05"/><circle cx="486.0" cy="81.0" r="2.05"/><circle cx="490.0" cy="84.1" r="2.05"/><circle cx="494.6" cy="87.7" r="2.05"/><circle cx="499.5" cy="89.5" r="2.05"/><circle cx="506.7" cy="83.2" r="2.05"/><circle cx="506.7" cy="91.9" r="2.05"/></g>
<path d="M464.0,80.0 H508.8" stroke="#810f7c" stroke-width="2.4" fill="none"/>
<g fill="#670864" clip-path="url(#cd)"><circle cx="466.1" cy="93.1" r="2.05"/><circle cx="468.0" cy="92.2" r="2.05"/><circle cx="470.3" cy="94.4" r="2.05"/><circle cx="473.3" cy="96.2" r="2.05"/><circle cx="476.0" cy="97.6" r="2.05"/><circle cx="478.7" cy="99.4" r="2.05"/><circle cx="481.8" cy="100.9" r="2.05"/><circle cx="486.0" cy="104.5" r="2.05"/><circle cx="490.0" cy="103.9" r="2.05"/><circle cx="494.6" cy="108.0" r="2.05"/><circle cx="500.0" cy="111.1" r="2.05"/><circle cx="506.7" cy="112.4" r="2.05"/></g>
<path d="M464.0,101.2 H508.8" stroke="#670864" stroke-width="2.4" fill="none"/>
<g fill="#4d004b" clip-path="url(#cd)"><circle cx="466.1" cy="125.5" r="2.05"/><circle cx="468.0" cy="122.0" r="2.05"/><circle cx="470.3" cy="123.2" r="2.05"/><circle cx="473.3" cy="124.3" r="2.05"/><circle cx="476.0" cy="126.8" r="2.05"/><circle cx="478.7" cy="128.6" r="2.05"/><circle cx="481.8" cy="130.0" r="2.05"/><circle cx="486.0" cy="133.3" r="2.05"/><circle cx="490.0" cy="135.5" r="2.05"/><circle cx="494.6" cy="137.3" r="2.05"/><circle cx="500.0" cy="141.0" r="2.05"/><circle cx="506.7" cy="143.0" r="2.05"/></g>
<path d="M464.0,131.0 H508.8" stroke="#4d004b" stroke-width="2.4" fill="none"/>
<rect x="49.30" y="19.10" width="147.70" height="236.10" fill="none" stroke="#1a1a1a" stroke-width="1.0"/>
<path d="M56.08,255.20 v-2.80 M56.08,19.10 v2.80" stroke="#1a1a1a" stroke-width="0.55" fill="none"/>
<path d="M67.10,255.20 v-2.80 M67.10,19.10 v2.80" stroke="#1a1a1a" stroke-width="0.55" fill="none"/>
<path d="M75.65,255.20 v-2.80 M75.65,19.10 v2.80" stroke="#1a1a1a" stroke-width="0.55" fill="none"/>
<path d="M82.63,255.20 v-2.80 M82.63,19.10 v2.80" stroke="#1a1a1a" stroke-width="0.55" fill="none"/>
<path d="M88.54,255.20 v-2.80 M88.54,19.10 v2.80" stroke="#1a1a1a" stroke-width="0.55" fill="none"/>
<path d="M93.65,255.20 v-2.80 M93.65,19.10 v2.80" stroke="#1a1a1a" stroke-width="0.55" fill="none"/>
<path d="M98.16,255.20 v-2.80 M98.16,19.10 v2.80" stroke="#1a1a1a" stroke-width="0.55" fill="none"/>
<path d="M102.20,255.20 v-4.70 M102.20,19.10 v4.70" stroke="#1a1a1a" stroke-width="0.70" fill="none"/>
<path d="M128.75,255.20 v-2.80 M128.75,19.10 v2.80" stroke="#1a1a1a" stroke-width="0.55" fill="none"/>
<path d="M144.28,255.20 v-2.80 M144.28,19.10 v2.80" stroke="#1a1a1a" stroke-width="0.55" fill="none"/>
<path d="M155.30,255.20 v-2.80 M155.30,19.10 v2.80" stroke="#1a1a1a" stroke-width="0.55" fill="none"/>
<path d="M163.85,255.20 v-2.80 M163.85,19.10 v2.80" stroke="#1a1a1a" stroke-width="0.55" fill="none"/>
<path d="M170.83,255.20 v-2.80 M170.83,19.10 v2.80" stroke="#1a1a1a" stroke-width="0.55" fill="none"/>
<path d="M176.74,255.20 v-2.80 M176.74,19.10 v2.80" stroke="#1a1a1a" stroke-width="0.55" fill="none"/>
<path d="M181.85,255.20 v-2.80 M181.85,19.10 v2.80" stroke="#1a1a1a" stroke-width="0.55" fill="none"/>
<path d="M186.36,255.20 v-2.80 M186.36,19.10 v2.80" stroke="#1a1a1a" stroke-width="0.55" fill="none"/>
<path d="M190.40,255.20 v-4.70 M190.40,19.10 v4.70" stroke="#1a1a1a" stroke-width="0.70" fill="none"/>
<path d="M49.30,207.98 h4.5 M197.00,207.98 h-4.5" stroke="#1a1a1a" stroke-width="0.7" fill="none"/>
<path d="M49.30,160.76 h4.5 M197.00,160.76 h-4.5" stroke="#1a1a1a" stroke-width="0.7" fill="none"/>
<path d="M49.30,113.54 h4.5 M197.00,113.54 h-4.5" stroke="#1a1a1a" stroke-width="0.7" fill="none"/>
<path d="M49.30,66.32 h4.5 M197.00,66.32 h-4.5" stroke="#1a1a1a" stroke-width="0.7" fill="none"/>
<rect x="298.30" y="19.10" width="147.20" height="236.10" fill="none" stroke="#1a1a1a" stroke-width="1.0"/>
<path d="M305.08,255.20 v-2.80 M305.08,19.10 v2.80" stroke="#1a1a1a" stroke-width="0.55" fill="none"/>
<path d="M316.10,255.20 v-2.80 M316.10,19.10 v2.80" stroke="#1a1a1a" stroke-width="0.55" fill="none"/>
<path d="M324.65,255.20 v-2.80 M324.65,19.10 v2.80" stroke="#1a1a1a" stroke-width="0.55" fill="none"/>
<path d="M331.63,255.20 v-2.80 M331.63,19.10 v2.80" stroke="#1a1a1a" stroke-width="0.55" fill="none"/>
<path d="M337.54,255.20 v-2.80 M337.54,19.10 v2.80" stroke="#1a1a1a" stroke-width="0.55" fill="none"/>
<path d="M342.65,255.20 v-2.80 M342.65,19.10 v2.80" stroke="#1a1a1a" stroke-width="0.55" fill="none"/>
<path d="M347.16,255.20 v-2.80 M347.16,19.10 v2.80" stroke="#1a1a1a" stroke-width="0.55" fill="none"/>
<path d="M351.20,255.20 v-4.70 M351.20,19.10 v4.70" stroke="#1a1a1a" stroke-width="0.70" fill="none"/>
<path d="M377.75,255.20 v-2.80 M377.75,19.10 v2.80" stroke="#1a1a1a" stroke-width="0.55" fill="none"/>
<path d="M393.28,255.20 v-2.80 M393.28,19.10 v2.80" stroke="#1a1a1a" stroke-width="0.55" fill="none"/>
<path d="M404.30,255.20 v-2.80 M404.30,19.10 v2.80" stroke="#1a1a1a" stroke-width="0.55" fill="none"/>
<path d="M412.85,255.20 v-2.80 M412.85,19.10 v2.80" stroke="#1a1a1a" stroke-width="0.55" fill="none"/>
<path d="M419.83,255.20 v-2.80 M419.83,19.10 v2.80" stroke="#1a1a1a" stroke-width="0.55" fill="none"/>
<path d="M425.74,255.20 v-2.80 M425.74,19.10 v2.80" stroke="#1a1a1a" stroke-width="0.55" fill="none"/>
<path d="M430.85,255.20 v-2.80 M430.85,19.10 v2.80" stroke="#1a1a1a" stroke-width="0.55" fill="none"/>
<path d="M435.36,255.20 v-2.80 M435.36,19.10 v2.80" stroke="#1a1a1a" stroke-width="0.55" fill="none"/>
<path d="M439.40,255.20 v-4.70 M439.40,19.10 v4.70" stroke="#1a1a1a" stroke-width="0.70" fill="none"/>
<path d="M298.30,207.98 h4.5 M445.50,207.98 h-4.5" stroke="#1a1a1a" stroke-width="0.7" fill="none"/>
<path d="M298.30,160.76 h4.5 M445.50,160.76 h-4.5" stroke="#1a1a1a" stroke-width="0.7" fill="none"/>
<path d="M298.30,113.54 h4.5 M445.50,113.54 h-4.5" stroke="#1a1a1a" stroke-width="0.7" fill="none"/>
<path d="M298.30,66.32 h4.5 M445.50,66.32 h-4.5" stroke="#1a1a1a" stroke-width="0.7" fill="none"/>
<rect x="215.70" y="19.10" width="44.40" height="236.10" fill="none" stroke="#1a1a1a" stroke-width="1.0"/>
<path d="M217.48,255.20 v-2.80 M217.48,19.10 v2.80" stroke="#1a1a1a" stroke-width="0.55" fill="none"/>
<path d="M219.30,255.20 v-4.70 M219.30,19.10 v4.70" stroke="#1a1a1a" stroke-width="0.70" fill="none"/>
<path d="M231.25,255.20 v-2.80 M231.25,19.10 v2.80" stroke="#1a1a1a" stroke-width="0.55" fill="none"/>
<path d="M238.24,255.20 v-2.80 M238.24,19.10 v2.80" stroke="#1a1a1a" stroke-width="0.55" fill="none"/>
<path d="M243.20,255.20 v-2.80 M243.20,19.10 v2.80" stroke="#1a1a1a" stroke-width="0.55" fill="none"/>
<path d="M247.05,255.20 v-2.80 M247.05,19.10 v2.80" stroke="#1a1a1a" stroke-width="0.55" fill="none"/>
<path d="M250.19,255.20 v-2.80 M250.19,19.10 v2.80" stroke="#1a1a1a" stroke-width="0.55" fill="none"/>
<path d="M252.85,255.20 v-2.80 M252.85,19.10 v2.80" stroke="#1a1a1a" stroke-width="0.55" fill="none"/>
<path d="M255.15,255.20 v-2.80 M255.15,19.10 v2.80" stroke="#1a1a1a" stroke-width="0.55" fill="none"/>
<path d="M257.18,255.20 v-2.80 M257.18,19.10 v2.80" stroke="#1a1a1a" stroke-width="0.55" fill="none"/>
<path d="M259.00,255.20 v-4.70 M259.00,19.10 v4.70" stroke="#1a1a1a" stroke-width="0.70" fill="none"/>
<path d="M215.70,207.98 h4.5 M260.10,207.98 h-4.5" stroke="#1a1a1a" stroke-width="0.7" fill="none"/>
<path d="M215.70,160.76 h4.5 M260.10,160.76 h-4.5" stroke="#1a1a1a" stroke-width="0.7" fill="none"/>
<path d="M215.70,113.54 h4.5 M260.10,113.54 h-4.5" stroke="#1a1a1a" stroke-width="0.7" fill="none"/>
<path d="M215.70,66.32 h4.5 M260.10,66.32 h-4.5" stroke="#1a1a1a" stroke-width="0.7" fill="none"/>
<rect x="464.00" y="19.10" width="44.80" height="236.10" fill="none" stroke="#1a1a1a" stroke-width="1.0"/>
<path d="M465.78,255.20 v-2.80 M465.78,19.10 v2.80" stroke="#1a1a1a" stroke-width="0.55" fill="none"/>
<path d="M467.60,255.20 v-4.70 M467.60,19.10 v4.70" stroke="#1a1a1a" stroke-width="0.70" fill="none"/>
<path d="M479.55,255.20 v-2.80 M479.55,19.10 v2.80" stroke="#1a1a1a" stroke-width="0.55" fill="none"/>
<path d="M486.54,255.20 v-2.80 M486.54,19.10 v2.80" stroke="#1a1a1a" stroke-width="0.55" fill="none"/>
<path d="M491.50,255.20 v-2.80 M491.50,19.10 v2.80" stroke="#1a1a1a" stroke-width="0.55" fill="none"/>
<path d="M495.35,255.20 v-2.80 M495.35,19.10 v2.80" stroke="#1a1a1a" stroke-width="0.55" fill="none"/>
<path d="M498.49,255.20 v-2.80 M498.49,19.10 v2.80" stroke="#1a1a1a" stroke-width="0.55" fill="none"/>
<path d="M501.15,255.20 v-2.80 M501.15,19.10 v2.80" stroke="#1a1a1a" stroke-width="0.55" fill="none"/>
<path d="M503.45,255.20 v-2.80 M503.45,19.10 v2.80" stroke="#1a1a1a" stroke-width="0.55" fill="none"/>
<path d="M505.48,255.20 v-2.80 M505.48,19.10 v2.80" stroke="#1a1a1a" stroke-width="0.55" fill="none"/>
<path d="M507.30,255.20 v-4.70 M507.30,19.10 v4.70" stroke="#1a1a1a" stroke-width="0.70" fill="none"/>
<path d="M464.00,207.98 h4.5 M508.80,207.98 h-4.5" stroke="#1a1a1a" stroke-width="0.7" fill="none"/>
<path d="M464.00,160.76 h4.5 M508.80,160.76 h-4.5" stroke="#1a1a1a" stroke-width="0.7" fill="none"/>
<path d="M464.00,113.54 h4.5 M508.80,113.54 h-4.5" stroke="#1a1a1a" stroke-width="0.7" fill="none"/>
<path d="M464.00,66.32 h4.5 M508.80,66.32 h-4.5" stroke="#1a1a1a" stroke-width="0.7" fill="none"/>
<g font-family="'Liberation Serif', serif" fill="#111">
<text x="41.7" y="259.6" text-anchor="end" font-size="13.0"  >0</text>
<text x="41.7" y="212.4" text-anchor="end" font-size="13.0"  >0.5</text>
<text x="41.7" y="165.2" text-anchor="end" font-size="13.0"  >1</text>
<text x="41.7" y="117.9" text-anchor="end" font-size="13.0"  >1.5</text>
<text x="41.7" y="70.7" text-anchor="end" font-size="13.0"  >2</text>
<text x="41.7" y="23.5" text-anchor="end" font-size="13.0"  >2.5</text>
<text x="514.6" y="212.4" text-anchor="start" font-size="13.0"  >0.5</text>
<text x="514.6" y="165.2" text-anchor="start" font-size="13.0"  >1</text>
<text x="514.6" y="117.9" text-anchor="start" font-size="13.0"  >1.5</text>
<text x="514.6" y="70.7" text-anchor="start" font-size="13.0"  >2</text>
<text x="514.6" y="23.5" text-anchor="start" font-size="13.0"  >2.5</text>
<text x="91.7" y="273.5" text-anchor="start" font-size="13.6">10<tspan dy="-5.0" dx="0.6" font-size="10.2">0</tspan></text>
<text x="179.7" y="273.5" text-anchor="start" font-size="13.6">10<tspan dy="-5.0" dx="0.6" font-size="10.2">1</tspan></text>
<text x="209.1" y="273.5" text-anchor="start" font-size="13.6">10<tspan dy="-5.0" dx="0.6" font-size="10.2">3</tspan></text>
<text x="249.9" y="273.5" text-anchor="start" font-size="13.6">10<tspan dy="-5.0" dx="0.6" font-size="10.2">4</tspan></text>
<text x="340.7" y="273.5" text-anchor="start" font-size="13.6">10<tspan dy="-5.0" dx="0.6" font-size="10.2">0</tspan></text>
<text x="427.9" y="273.5" text-anchor="start" font-size="13.6">10<tspan dy="-5.0" dx="0.6" font-size="10.2">1</tspan></text>
<text x="457.4" y="273.5" text-anchor="start" font-size="13.6">10<tspan dy="-5.0" dx="0.6" font-size="10.2">3</tspan></text>
<text x="498.1" y="273.5" text-anchor="start" font-size="13.6">10<tspan dy="-5.0" dx="0.6" font-size="10.2">4</tspan></text>
<text x="123.3" y="292.6" text-anchor="middle" font-size="14.0" font-style="italic" >Ae</text>
<text x="237.9" y="292.6" text-anchor="middle" font-size="14.0" font-style="italic" >Ae</text>
<text x="371.9" y="292.6" text-anchor="middle" font-size="14.0" font-style="italic" >Ae</text>
<text x="486.4" y="292.6" text-anchor="middle" font-size="14.0" font-style="italic" >Ae</text>
<text x="98.0" y="10.4" text-anchor="start" font-size="15.0" font-weight="bold" textLength="50.2" lengthAdjust="spacing">flexible</text>
<text x="347.0" y="10.4" text-anchor="start" font-size="15.0" font-weight="bold" textLength="50.2" lengthAdjust="spacing">flexible</text>
<text x="221.7" y="10.4" text-anchor="start" font-size="15.0" font-weight="bold" textLength="31.4" lengthAdjust="spacing">rigid</text>
<text x="470.3" y="10.4" text-anchor="start" font-size="15.0" font-weight="bold" textLength="31.4" lengthAdjust="spacing">rigid</text>
<text x="58.4" y="34.4" text-anchor="start" font-size="14.5" font-weight="bold" letter-spacing="1.2">a.</text>
<text x="221.8" y="38.2" text-anchor="start" font-size="14.5" font-weight="bold" letter-spacing="1.2">b.</text>
<text x="307.3" y="34.4" text-anchor="start" font-size="14.5" font-weight="bold" letter-spacing="1.2">c.</text>
<text x="469.8" y="38.2" text-anchor="start" font-size="14.5" font-weight="bold" letter-spacing="1.2">d.</text>
<rect x="318.9" y="172.2" width="104.5" height="11.6" fill="url(#cbar)" stroke="#111" stroke-width="0.8"/>
<text x="319.9" y="199.0" text-anchor="middle" font-size="13.0"  >15</text>
<text x="345.3" y="199.0" text-anchor="middle" font-size="13.0"  >30</text>
<path d="M345.3,183.8 v-2.2 M345.3,172.2 v2.2" stroke="#333" stroke-width="0.5"/>
<text x="370.7" y="199.0" text-anchor="middle" font-size="13.0"  >45</text>
<path d="M370.7,183.8 v-2.2 M370.7,172.2 v2.2" stroke="#333" stroke-width="0.5"/>
<text x="396.1" y="199.0" text-anchor="middle" font-size="13.0"  >60</text>
<path d="M396.1,183.8 v-2.2 M396.1,172.2 v2.2" stroke="#333" stroke-width="0.5"/>
<text x="421.5" y="199.0" text-anchor="middle" font-size="13.0"  >75</text>
<text x="357.0" y="220.4" text-anchor="start" font-size="13.5" font-style="italic">α</text>
<text x="372.3" y="220.4" text-anchor="start" font-size="13">[°]</text>
<path d="M359.3,212.9 L361.6,209.9 L363.9,212.9" stroke="#111" stroke-width="0.8" fill="none"/>
<g transform="translate(12.4,146.3) rotate(-90)"><text x="0" y="0" font-size="13.5" font-style="italic">C</text><path d="M0.8,-10.9 H8.6" stroke="#111" stroke-width="0.75" fill="none"/><path d="M12.1,-2.0 V2.1 M11.3,-2.0 H13.2 M11.3,2.1 H16.6 V0.7" stroke="#111" stroke-width="0.75" fill="none"/></g>
<g transform="translate(546.2,127.9) rotate(90)"><text x="0" y="0" font-size="13.5" font-style="italic">C</text><path d="M0.8,-10.9 H8.6" stroke="#111" stroke-width="0.75" fill="none"/><path d="M12.1,-2.0 V2.1 M11.3,-2.0 H13.2 M11.3,2.1 H16.6 V0.7" stroke="#111" stroke-width="0.75" fill="none"/></g>
</g>
</svg>
</body></html>
